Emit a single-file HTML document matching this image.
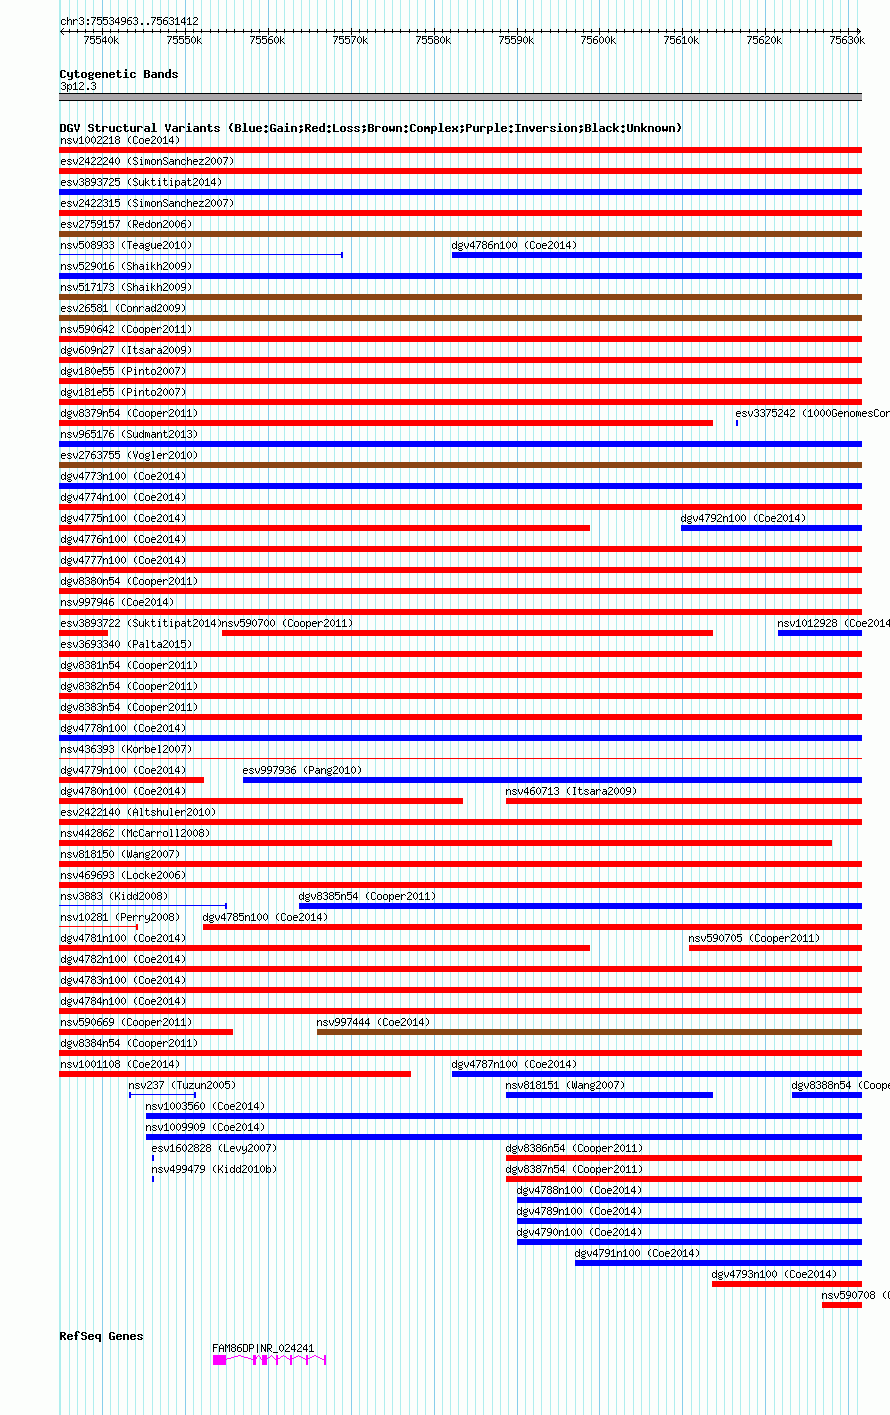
<!DOCTYPE html>
<html><head><meta charset="utf-8"><title>DGV Structural Variants</title>
<style>html,body{margin:0;padding:0;background:#fcfefc}body{width:890px;height:1415px;overflow:hidden;position:relative;font-family:"Liberation Mono",monospace}svg{position:absolute;left:0;top:0;display:block}</style>
</head><body>
<svg width="890" height="1415" viewBox="0 0 890 1415" shape-rendering="crispEdges">
<defs><path id="s28" d="M3 3h1v1h-1zM2 4h1v1h-1zM1 5h1v1h-1zM1 6h1v1h-1zM1 7h1v1h-1zM1 8h1v1h-1zM2 9h1v1h-1zM3 10h1v1h-1z"/><path id="s29" d="M1 3h1v1h-1zM2 4h1v1h-1zM3 5h1v1h-1zM3 6h1v1h-1zM3 7h1v1h-1zM3 8h1v1h-1zM2 9h1v1h-1zM1 10h1v1h-1z"/><path id="s2e" d="M2 9h2v1h-2zM2 10h2v1h-2z"/><path id="s30" d="M2 3h1v1h-1zM1 4h1v1h-1zM3 4h1v1h-1zM0 5h1v1h-1zM4 5h1v1h-1zM0 6h1v1h-1zM4 6h1v1h-1zM0 7h1v1h-1zM4 7h1v1h-1zM0 8h1v1h-1zM4 8h1v1h-1zM1 9h1v1h-1zM3 9h1v1h-1zM2 10h1v1h-1z"/><path id="s31" d="M2 3h1v1h-1zM1 4h2v1h-2zM0 5h1v1h-1zM2 5h1v1h-1zM2 6h1v1h-1zM2 7h1v1h-1zM2 8h1v1h-1zM2 9h1v1h-1zM0 10h5v1h-5z"/><path id="s32" d="M1 3h3v1h-3zM0 4h1v1h-1zM4 4h1v1h-1zM4 5h1v1h-1zM3 6h1v1h-1zM2 7h1v1h-1zM1 8h1v1h-1zM0 9h1v1h-1zM0 10h5v1h-5z"/><path id="s33" d="M1 3h3v1h-3zM0 4h1v1h-1zM4 4h1v1h-1zM4 5h1v1h-1zM2 6h2v1h-2zM4 7h1v1h-1zM4 8h1v1h-1zM0 9h1v1h-1zM4 9h1v1h-1zM1 10h3v1h-3z"/><path id="s34" d="M3 3h1v1h-1zM2 4h2v1h-2zM1 5h1v1h-1zM3 5h1v1h-1zM0 6h1v1h-1zM3 6h1v1h-1zM0 7h1v1h-1zM3 7h1v1h-1zM0 8h5v1h-5zM3 9h1v1h-1zM3 10h1v1h-1z"/><path id="s35" d="M0 3h5v1h-5zM0 4h1v1h-1zM0 5h4v1h-4zM0 6h1v1h-1zM4 6h1v1h-1zM4 7h1v1h-1zM4 8h1v1h-1zM0 9h1v1h-1zM4 9h1v1h-1zM1 10h3v1h-3z"/><path id="s36" d="M2 3h3v1h-3zM1 4h1v1h-1zM0 5h1v1h-1zM0 6h4v1h-4zM0 7h1v1h-1zM4 7h1v1h-1zM0 8h1v1h-1zM4 8h1v1h-1zM0 9h1v1h-1zM4 9h1v1h-1zM1 10h3v1h-3z"/><path id="s37" d="M0 3h5v1h-5zM4 4h1v1h-1zM3 5h1v1h-1zM3 6h1v1h-1zM2 7h1v1h-1zM2 8h1v1h-1zM1 9h1v1h-1zM1 10h1v1h-1z"/><path id="s38" d="M1 3h3v1h-3zM0 4h1v1h-1zM4 4h1v1h-1zM0 5h1v1h-1zM4 5h1v1h-1zM1 6h3v1h-3zM0 7h1v1h-1zM4 7h1v1h-1zM0 8h1v1h-1zM4 8h1v1h-1zM0 9h1v1h-1zM4 9h1v1h-1zM1 10h3v1h-3z"/><path id="s39" d="M1 3h3v1h-3zM0 4h1v1h-1zM4 4h1v1h-1zM0 5h1v1h-1zM4 5h1v1h-1zM0 6h1v1h-1zM4 6h1v1h-1zM1 7h4v1h-4zM4 8h1v1h-1zM3 9h1v1h-1zM0 10h3v1h-3z"/><path id="s3a" d="M2 5h2v1h-2zM2 6h2v1h-2zM2 9h2v1h-2zM2 10h2v1h-2z"/><path id="s41" d="M2 3h1v1h-1zM1 4h1v1h-1zM3 4h1v1h-1zM0 5h1v1h-1zM4 5h1v1h-1zM0 6h1v1h-1zM4 6h1v1h-1zM0 7h5v1h-5zM0 8h1v1h-1zM4 8h1v1h-1zM0 9h1v1h-1zM4 9h1v1h-1zM0 10h1v1h-1zM4 10h1v1h-1z"/><path id="s43" d="M1 3h3v1h-3zM0 4h1v1h-1zM4 4h1v1h-1zM0 5h1v1h-1zM0 6h1v1h-1zM0 7h1v1h-1zM0 8h1v1h-1zM0 9h1v1h-1zM4 9h1v1h-1zM1 10h3v1h-3z"/><path id="s44" d="M0 3h4v1h-4zM0 4h1v1h-1zM4 4h1v1h-1zM0 5h1v1h-1zM4 5h1v1h-1zM0 6h1v1h-1zM4 6h1v1h-1zM0 7h1v1h-1zM4 7h1v1h-1zM0 8h1v1h-1zM4 8h1v1h-1zM0 9h1v1h-1zM4 9h1v1h-1zM0 10h4v1h-4z"/><path id="s46" d="M0 3h5v1h-5zM0 4h1v1h-1zM0 5h1v1h-1zM0 6h4v1h-4zM0 7h1v1h-1zM0 8h1v1h-1zM0 9h1v1h-1zM0 10h1v1h-1z"/><path id="s47" d="M1 3h3v1h-3zM0 4h1v1h-1zM4 4h1v1h-1zM0 5h1v1h-1zM0 6h1v1h-1zM0 7h1v1h-1zM3 7h2v1h-2zM0 8h1v1h-1zM4 8h1v1h-1zM0 9h1v1h-1zM4 9h1v1h-1zM1 10h3v1h-3z"/><path id="s49" d="M1 3h3v1h-3zM2 4h1v1h-1zM2 5h1v1h-1zM2 6h1v1h-1zM2 7h1v1h-1zM2 8h1v1h-1zM2 9h1v1h-1zM1 10h3v1h-3z"/><path id="s4b" d="M0 3h1v1h-1zM4 3h1v1h-1zM0 4h1v1h-1zM4 4h1v1h-1zM0 5h1v1h-1zM3 5h1v1h-1zM0 6h1v1h-1zM2 6h1v1h-1zM0 7h3v1h-3zM0 8h1v1h-1zM3 8h1v1h-1zM0 9h1v1h-1zM4 9h1v1h-1zM0 10h1v1h-1zM4 10h1v1h-1z"/><path id="s4c" d="M0 3h1v1h-1zM0 4h1v1h-1zM0 5h1v1h-1zM0 6h1v1h-1zM0 7h1v1h-1zM0 8h1v1h-1zM0 9h1v1h-1zM0 10h5v1h-5z"/><path id="s4d" d="M0 3h1v1h-1zM4 3h1v1h-1zM0 4h2v1h-2zM3 4h2v1h-2zM0 5h1v1h-1zM2 5h1v1h-1zM4 5h1v1h-1zM0 6h1v1h-1zM2 6h1v1h-1zM4 6h1v1h-1zM0 7h1v1h-1zM4 7h1v1h-1zM0 8h1v1h-1zM4 8h1v1h-1zM0 9h1v1h-1zM4 9h1v1h-1zM0 10h1v1h-1zM4 10h1v1h-1z"/><path id="s4e" d="M0 3h1v1h-1zM4 3h1v1h-1zM0 4h2v1h-2zM4 4h1v1h-1zM0 5h2v1h-2zM4 5h1v1h-1zM0 6h1v1h-1zM2 6h1v1h-1zM4 6h1v1h-1zM0 7h1v1h-1zM2 7h1v1h-1zM4 7h1v1h-1zM0 8h1v1h-1zM3 8h2v1h-2zM0 9h1v1h-1zM3 9h2v1h-2zM0 10h1v1h-1zM4 10h1v1h-1z"/><path id="s50" d="M0 3h4v1h-4zM0 4h1v1h-1zM4 4h1v1h-1zM0 5h1v1h-1zM4 5h1v1h-1zM0 6h1v1h-1zM4 6h1v1h-1zM0 7h4v1h-4zM0 8h1v1h-1zM0 9h1v1h-1zM0 10h1v1h-1z"/><path id="s52" d="M0 3h4v1h-4zM0 4h1v1h-1zM4 4h1v1h-1zM0 5h1v1h-1zM4 5h1v1h-1zM0 6h1v1h-1zM4 6h1v1h-1zM0 7h4v1h-4zM0 8h1v1h-1zM2 8h1v1h-1zM0 9h1v1h-1zM3 9h1v1h-1zM0 10h1v1h-1zM4 10h1v1h-1z"/><path id="s53" d="M1 3h3v1h-3zM0 4h1v1h-1zM4 4h1v1h-1zM0 5h1v1h-1zM1 6h2v1h-2zM3 7h1v1h-1zM4 8h1v1h-1zM0 9h1v1h-1zM4 9h1v1h-1zM1 10h3v1h-3z"/><path id="s54" d="M0 3h5v1h-5zM2 4h1v1h-1zM2 5h1v1h-1zM2 6h1v1h-1zM2 7h1v1h-1zM2 8h1v1h-1zM2 9h1v1h-1zM2 10h1v1h-1z"/><path id="s56" d="M0 3h1v1h-1zM4 3h1v1h-1zM0 4h1v1h-1zM4 4h1v1h-1zM0 5h1v1h-1zM4 5h1v1h-1zM1 6h1v1h-1zM3 6h1v1h-1zM1 7h1v1h-1zM3 7h1v1h-1zM1 8h1v1h-1zM3 8h1v1h-1zM2 9h1v1h-1zM2 10h1v1h-1z"/><path id="s57" d="M0 3h1v1h-1zM4 3h1v1h-1zM0 4h1v1h-1zM4 4h1v1h-1zM0 5h1v1h-1zM2 5h1v1h-1zM4 5h1v1h-1zM0 6h1v1h-1zM2 6h1v1h-1zM4 6h1v1h-1zM0 7h1v1h-1zM2 7h1v1h-1zM4 7h1v1h-1zM0 8h1v1h-1zM2 8h1v1h-1zM4 8h1v1h-1zM0 9h2v1h-2zM3 9h2v1h-2zM1 10h1v1h-1zM3 10h1v1h-1z"/><path id="s5f" d="M0 11h5v1h-5z"/><path id="s61" d="M1 5h3v1h-3zM4 6h1v1h-1zM1 7h4v1h-4zM0 8h1v1h-1zM4 8h1v1h-1zM0 9h1v1h-1zM3 9h2v1h-2zM1 10h2v1h-2zM4 10h1v1h-1z"/><path id="s62" d="M0 3h1v1h-1zM0 4h1v1h-1zM0 5h1v1h-1zM2 5h2v1h-2zM0 6h2v1h-2zM4 6h1v1h-1zM0 7h1v1h-1zM4 7h1v1h-1zM0 8h1v1h-1zM4 8h1v1h-1zM0 9h2v1h-2zM4 9h1v1h-1zM0 10h1v1h-1zM2 10h2v1h-2z"/><path id="s63" d="M1 5h3v1h-3zM0 6h1v1h-1zM4 6h1v1h-1zM0 7h1v1h-1zM0 8h1v1h-1zM0 9h1v1h-1zM4 9h1v1h-1zM1 10h3v1h-3z"/><path id="s64" d="M4 3h1v1h-1zM4 4h1v1h-1zM1 5h2v1h-2zM4 5h1v1h-1zM0 6h1v1h-1zM3 6h2v1h-2zM0 7h1v1h-1zM4 7h1v1h-1zM0 8h1v1h-1zM4 8h1v1h-1zM0 9h1v1h-1zM3 9h2v1h-2zM1 10h2v1h-2zM4 10h1v1h-1z"/><path id="s65" d="M1 5h3v1h-3zM0 6h1v1h-1zM4 6h1v1h-1zM0 7h5v1h-5zM0 8h1v1h-1zM0 9h1v1h-1zM1 10h3v1h-3z"/><path id="s67" d="M4 4h1v1h-1zM1 5h3v1h-3zM0 6h1v1h-1zM4 6h1v1h-1zM0 7h1v1h-1zM4 7h1v1h-1zM1 8h3v1h-3zM0 9h1v1h-1zM1 10h3v1h-3zM0 11h1v1h-1zM4 11h1v1h-1zM1 12h3v1h-3z"/><path id="s68" d="M0 3h1v1h-1zM0 4h1v1h-1zM0 5h1v1h-1zM2 5h2v1h-2zM0 6h2v1h-2zM4 6h1v1h-1zM0 7h1v1h-1zM4 7h1v1h-1zM0 8h1v1h-1zM4 8h1v1h-1zM0 9h1v1h-1zM4 9h1v1h-1zM0 10h1v1h-1zM4 10h1v1h-1z"/><path id="s69" d="M2 3h1v1h-1zM1 5h2v1h-2zM2 6h1v1h-1zM2 7h1v1h-1zM2 8h1v1h-1zM2 9h1v1h-1zM1 10h3v1h-3z"/><path id="s6b" d="M0 3h1v1h-1zM0 4h1v1h-1zM0 5h1v1h-1zM3 5h1v1h-1zM0 6h1v1h-1zM2 6h1v1h-1zM0 7h2v1h-2zM0 8h1v1h-1zM2 8h1v1h-1zM0 9h1v1h-1zM3 9h1v1h-1zM0 10h1v1h-1zM4 10h1v1h-1z"/><path id="s6c" d="M1 3h2v1h-2zM2 4h1v1h-1zM2 5h1v1h-1zM2 6h1v1h-1zM2 7h1v1h-1zM2 8h1v1h-1zM2 9h1v1h-1zM1 10h3v1h-3z"/><path id="s6d" d="M0 5h2v1h-2zM3 5h1v1h-1zM0 6h1v1h-1zM2 6h1v1h-1zM4 6h1v1h-1zM0 7h1v1h-1zM2 7h1v1h-1zM4 7h1v1h-1zM0 8h1v1h-1zM2 8h1v1h-1zM4 8h1v1h-1zM0 9h1v1h-1zM2 9h1v1h-1zM4 9h1v1h-1zM0 10h1v1h-1zM4 10h1v1h-1z"/><path id="s6e" d="M0 5h1v1h-1zM2 5h2v1h-2zM0 6h2v1h-2zM4 6h1v1h-1zM0 7h1v1h-1zM4 7h1v1h-1zM0 8h1v1h-1zM4 8h1v1h-1zM0 9h1v1h-1zM4 9h1v1h-1zM0 10h1v1h-1zM4 10h1v1h-1z"/><path id="s6f" d="M1 5h3v1h-3zM0 6h1v1h-1zM4 6h1v1h-1zM0 7h1v1h-1zM4 7h1v1h-1zM0 8h1v1h-1zM4 8h1v1h-1zM0 9h1v1h-1zM4 9h1v1h-1zM1 10h3v1h-3z"/><path id="s70" d="M0 5h1v1h-1zM2 5h2v1h-2zM0 6h2v1h-2zM4 6h1v1h-1zM0 7h1v1h-1zM4 7h1v1h-1zM0 8h1v1h-1zM4 8h1v1h-1zM0 9h2v1h-2zM4 9h1v1h-1zM0 10h1v1h-1zM2 10h2v1h-2zM0 11h1v1h-1zM0 12h1v1h-1z"/><path id="s72" d="M0 5h1v1h-1zM2 5h2v1h-2zM0 6h2v1h-2zM4 6h1v1h-1zM0 7h1v1h-1zM0 8h1v1h-1zM0 9h1v1h-1zM0 10h1v1h-1z"/><path id="s73" d="M1 5h3v1h-3zM0 6h1v1h-1zM4 6h1v1h-1zM1 7h2v1h-2zM3 8h1v1h-1zM0 9h1v1h-1zM4 9h1v1h-1zM1 10h3v1h-3z"/><path id="s74" d="M1 3h1v1h-1zM1 4h1v1h-1zM0 5h4v1h-4zM1 6h1v1h-1zM1 7h1v1h-1zM1 8h1v1h-1zM1 9h1v1h-1zM4 9h1v1h-1zM2 10h2v1h-2z"/><path id="s75" d="M0 5h1v1h-1zM4 5h1v1h-1zM0 6h1v1h-1zM4 6h1v1h-1zM0 7h1v1h-1zM4 7h1v1h-1zM0 8h1v1h-1zM4 8h1v1h-1zM0 9h1v1h-1zM3 9h2v1h-2zM1 10h2v1h-2zM4 10h1v1h-1z"/><path id="s76" d="M0 5h1v1h-1zM4 5h1v1h-1zM0 6h1v1h-1zM4 6h1v1h-1zM0 7h1v1h-1zM4 7h1v1h-1zM1 8h1v1h-1zM3 8h1v1h-1zM1 9h1v1h-1zM3 9h1v1h-1zM2 10h1v1h-1z"/><path id="s79" d="M0 5h1v1h-1zM4 5h1v1h-1zM0 6h1v1h-1zM4 6h1v1h-1zM0 7h1v1h-1zM4 7h1v1h-1zM0 8h1v1h-1zM3 8h2v1h-2zM1 9h2v1h-2zM4 9h1v1h-1zM4 10h1v1h-1zM3 11h1v1h-1zM0 12h3v1h-3z"/><path id="s7a" d="M0 5h5v1h-5zM3 6h1v1h-1zM2 7h1v1h-1zM1 8h1v1h-1zM0 9h1v1h-1zM0 10h5v1h-5z"/><path id="s7c" d="M2 3h1v1h-1zM2 4h1v1h-1zM2 5h1v1h-1zM2 6h1v1h-1zM2 7h1v1h-1zM2 8h1v1h-1zM2 9h1v1h-1zM2 10h1v1h-1zM2 11h1v1h-1z"/><path id="b28" d="M3 2h2v1h-2zM2 3h2v1h-2zM2 4h2v1h-2zM1 5h2v1h-2zM1 6h2v1h-2zM1 7h2v1h-2zM2 8h2v1h-2zM2 9h2v1h-2zM3 10h2v1h-2z"/><path id="b29" d="M1 2h2v1h-2zM2 3h2v1h-2zM2 4h2v1h-2zM3 5h2v1h-2zM3 6h2v1h-2zM3 7h2v1h-2zM2 8h2v1h-2zM2 9h2v1h-2zM1 10h2v1h-2z"/><path id="b3a" d="M2 4h2v1h-2zM1 5h4v1h-4zM2 6h2v1h-2zM2 9h2v1h-2zM1 10h4v1h-4zM2 11h2v1h-2z"/><path id="b3b" d="M2 4h2v1h-2zM1 5h4v1h-4zM2 6h2v1h-2zM2 8h3v1h-3zM2 9h3v1h-3zM2 10h2v1h-2zM1 11h2v1h-2z"/><path id="b42" d="M0 3h5v1h-5zM0 4h2v1h-2zM4 4h2v1h-2zM0 5h2v1h-2zM4 5h2v1h-2zM0 6h5v1h-5zM0 7h2v1h-2zM4 7h2v1h-2zM0 8h2v1h-2zM4 8h2v1h-2zM0 9h2v1h-2zM4 9h2v1h-2zM0 10h5v1h-5z"/><path id="b43" d="M1 3h4v1h-4zM0 4h2v1h-2zM4 4h2v1h-2zM0 5h2v1h-2zM0 6h2v1h-2zM0 7h2v1h-2zM0 8h2v1h-2zM0 9h2v1h-2zM4 9h2v1h-2zM1 10h4v1h-4z"/><path id="b44" d="M0 3h5v1h-5zM0 4h2v1h-2zM4 4h2v1h-2zM0 5h2v1h-2zM4 5h2v1h-2zM0 6h2v1h-2zM4 6h2v1h-2zM0 7h2v1h-2zM4 7h2v1h-2zM0 8h2v1h-2zM4 8h2v1h-2zM0 9h2v1h-2zM4 9h2v1h-2zM0 10h5v1h-5z"/><path id="b47" d="M1 3h4v1h-4zM0 4h2v1h-2zM4 4h2v1h-2zM0 5h2v1h-2zM0 6h2v1h-2zM0 7h2v1h-2zM3 7h3v1h-3zM0 8h2v1h-2zM4 8h2v1h-2zM0 9h2v1h-2zM4 9h2v1h-2zM1 10h5v1h-5z"/><path id="b49" d="M0 3h6v1h-6zM2 4h2v1h-2zM2 5h2v1h-2zM2 6h2v1h-2zM2 7h2v1h-2zM2 8h2v1h-2zM2 9h2v1h-2zM0 10h6v1h-6z"/><path id="b4c" d="M0 3h2v1h-2zM0 4h2v1h-2zM0 5h2v1h-2zM0 6h2v1h-2zM0 7h2v1h-2zM0 8h2v1h-2zM0 9h2v1h-2zM0 10h6v1h-6z"/><path id="b50" d="M0 3h5v1h-5zM0 4h2v1h-2zM4 4h2v1h-2zM0 5h2v1h-2zM4 5h2v1h-2zM0 6h5v1h-5zM0 7h2v1h-2zM0 8h2v1h-2zM0 9h2v1h-2zM0 10h2v1h-2z"/><path id="b52" d="M0 3h5v1h-5zM0 4h2v1h-2zM4 4h2v1h-2zM0 5h2v1h-2zM4 5h2v1h-2zM0 6h5v1h-5zM0 7h4v1h-4zM0 8h2v1h-2zM3 8h2v1h-2zM0 9h2v1h-2zM4 9h2v1h-2zM0 10h2v1h-2zM4 10h2v1h-2z"/><path id="b53" d="M1 3h4v1h-4zM0 4h2v1h-2zM4 4h2v1h-2zM0 5h2v1h-2zM1 6h4v1h-4zM4 7h2v1h-2zM4 8h2v1h-2zM0 9h2v1h-2zM4 9h2v1h-2zM1 10h4v1h-4z"/><path id="b55" d="M0 3h2v1h-2zM4 3h2v1h-2zM0 4h2v1h-2zM4 4h2v1h-2zM0 5h2v1h-2zM4 5h2v1h-2zM0 6h2v1h-2zM4 6h2v1h-2zM0 7h2v1h-2zM4 7h2v1h-2zM0 8h2v1h-2zM4 8h2v1h-2zM0 9h2v1h-2zM4 9h2v1h-2zM1 10h4v1h-4z"/><path id="b56" d="M0 3h2v1h-2zM4 3h2v1h-2zM0 4h2v1h-2zM4 4h2v1h-2zM0 5h2v1h-2zM4 5h2v1h-2zM1 6h1v1h-1zM4 6h1v1h-1zM1 7h1v1h-1zM4 7h1v1h-1zM1 8h4v1h-4zM2 9h2v1h-2zM2 10h2v1h-2z"/><path id="b61" d="M1 5h4v1h-4zM4 6h2v1h-2zM1 7h5v1h-5zM0 8h2v1h-2zM4 8h2v1h-2zM0 9h2v1h-2zM4 9h2v1h-2zM1 10h5v1h-5z"/><path id="b63" d="M1 5h4v1h-4zM0 6h2v1h-2zM4 6h2v1h-2zM0 7h2v1h-2zM0 8h2v1h-2zM0 9h2v1h-2zM4 9h2v1h-2zM1 10h4v1h-4z"/><path id="b64" d="M4 2h2v1h-2zM4 3h2v1h-2zM4 4h2v1h-2zM1 5h5v1h-5zM0 6h2v1h-2zM4 6h2v1h-2zM0 7h2v1h-2zM4 7h2v1h-2zM0 8h2v1h-2zM4 8h2v1h-2zM0 9h2v1h-2zM4 9h2v1h-2zM1 10h5v1h-5z"/><path id="b65" d="M1 5h4v1h-4zM0 6h2v1h-2zM4 6h2v1h-2zM0 7h6v1h-6zM0 8h2v1h-2zM0 9h2v1h-2zM4 9h2v1h-2zM1 10h4v1h-4z"/><path id="b66" d="M2 2h3v1h-3zM1 3h2v1h-2zM4 3h2v1h-2zM1 4h2v1h-2zM1 5h2v1h-2zM0 6h4v1h-4zM1 7h2v1h-2zM1 8h2v1h-2zM1 9h2v1h-2zM1 10h2v1h-2z"/><path id="b67" d="M1 5h3v1h-3zM5 5h1v1h-1zM0 6h2v1h-2zM4 6h2v1h-2zM0 7h2v1h-2zM4 7h2v1h-2zM1 8h4v1h-4zM0 9h2v1h-2zM1 10h4v1h-4zM0 11h2v1h-2zM4 11h2v1h-2zM1 12h4v1h-4z"/><path id="b69" d="M2 2h2v1h-2zM2 3h2v1h-2zM1 5h3v1h-3zM2 6h2v1h-2zM2 7h2v1h-2zM2 8h2v1h-2zM2 9h2v1h-2zM0 10h6v1h-6z"/><path id="b6b" d="M0 2h2v1h-2zM0 3h2v1h-2zM0 4h2v1h-2zM0 5h2v1h-2zM4 5h2v1h-2zM0 6h2v1h-2zM3 6h2v1h-2zM0 7h4v1h-4zM0 8h4v1h-4zM0 9h2v1h-2zM3 9h2v1h-2zM0 10h2v1h-2zM4 10h2v1h-2z"/><path id="b6c" d="M1 2h3v1h-3zM2 3h2v1h-2zM2 4h2v1h-2zM2 5h2v1h-2zM2 6h2v1h-2zM2 7h2v1h-2zM2 8h2v1h-2zM2 9h2v1h-2zM0 10h6v1h-6z"/><path id="b6d" d="M0 5h2v1h-2zM3 5h2v1h-2zM0 6h6v1h-6zM0 7h6v1h-6zM0 8h2v1h-2zM4 8h2v1h-2zM0 9h2v1h-2zM4 9h2v1h-2zM0 10h2v1h-2zM4 10h2v1h-2z"/><path id="b6e" d="M0 5h5v1h-5zM0 6h2v1h-2zM4 6h2v1h-2zM0 7h2v1h-2zM4 7h2v1h-2zM0 8h2v1h-2zM4 8h2v1h-2zM0 9h2v1h-2zM4 9h2v1h-2zM0 10h2v1h-2zM4 10h2v1h-2z"/><path id="b6f" d="M1 5h4v1h-4zM0 6h2v1h-2zM4 6h2v1h-2zM0 7h2v1h-2zM4 7h2v1h-2zM0 8h2v1h-2zM4 8h2v1h-2zM0 9h2v1h-2zM4 9h2v1h-2zM1 10h4v1h-4z"/><path id="b70" d="M0 5h5v1h-5zM0 6h2v1h-2zM4 6h2v1h-2zM0 7h2v1h-2zM4 7h2v1h-2zM0 8h2v1h-2zM4 8h2v1h-2zM0 9h5v1h-5zM0 10h2v1h-2zM0 11h2v1h-2zM0 12h2v1h-2z"/><path id="b71" d="M1 5h5v1h-5zM0 6h2v1h-2zM4 6h2v1h-2zM0 7h2v1h-2zM4 7h2v1h-2zM0 8h2v1h-2zM4 8h2v1h-2zM1 9h5v1h-5zM4 10h2v1h-2zM4 11h2v1h-2zM4 12h2v1h-2z"/><path id="b72" d="M0 5h5v1h-5zM0 6h2v1h-2zM4 6h2v1h-2zM0 7h2v1h-2zM0 8h2v1h-2zM0 9h2v1h-2zM0 10h2v1h-2z"/><path id="b73" d="M1 5h4v1h-4zM0 6h2v1h-2zM4 6h2v1h-2zM1 7h2v1h-2zM3 8h2v1h-2zM0 9h2v1h-2zM4 9h2v1h-2zM1 10h4v1h-4z"/><path id="b74" d="M1 3h2v1h-2zM1 4h2v1h-2zM0 5h5v1h-5zM1 6h2v1h-2zM1 7h2v1h-2zM1 8h2v1h-2zM1 9h2v1h-2zM4 9h2v1h-2zM2 10h3v1h-3z"/><path id="b75" d="M0 5h2v1h-2zM4 5h2v1h-2zM0 6h2v1h-2zM4 6h2v1h-2zM0 7h2v1h-2zM4 7h2v1h-2zM0 8h2v1h-2zM4 8h2v1h-2zM0 9h2v1h-2zM4 9h2v1h-2zM1 10h5v1h-5z"/><path id="b76" d="M0 5h2v1h-2zM4 5h2v1h-2zM0 6h2v1h-2zM4 6h2v1h-2zM0 7h2v1h-2zM4 7h2v1h-2zM1 8h4v1h-4zM1 9h4v1h-4zM2 10h2v1h-2z"/><path id="b77" d="M0 5h2v1h-2zM4 5h2v1h-2zM0 6h2v1h-2zM4 6h2v1h-2zM0 7h2v1h-2zM4 7h2v1h-2zM0 8h6v1h-6zM0 9h6v1h-6zM1 10h1v1h-1zM4 10h1v1h-1z"/><path id="b78" d="M0 5h2v1h-2zM4 5h2v1h-2zM0 6h2v1h-2zM4 6h2v1h-2zM1 7h4v1h-4zM1 8h4v1h-4zM0 9h2v1h-2zM4 9h2v1h-2zM0 10h2v1h-2zM4 10h2v1h-2z"/><path id="b79" d="M0 5h2v1h-2zM4 5h2v1h-2zM0 6h2v1h-2zM4 6h2v1h-2zM0 7h2v1h-2zM4 7h2v1h-2zM0 8h2v1h-2zM4 8h2v1h-2zM1 9h5v1h-5zM4 10h2v1h-2zM4 11h2v1h-2zM1 12h4v1h-4z"/></defs>
<rect x="0" y="0" width="890" height="1415" fill="#fcfefc"/>
<rect x="59" y="0" width="2" height="1415" fill="#afeeee"/><rect x="69" y="0" width="1" height="1415" fill="#afeeee"/><rect x="77" y="0" width="1" height="1415" fill="#afeeee"/><rect x="85" y="0" width="1" height="1415" fill="#afeeee"/><rect x="93" y="0" width="1" height="1415" fill="#afeeee"/><rect x="102" y="0" width="1" height="1415" fill="#87ceeb"/><rect x="110" y="0" width="1" height="1415" fill="#afeeee"/><rect x="118" y="0" width="1" height="1415" fill="#afeeee"/><rect x="127" y="0" width="1" height="1415" fill="#afeeee"/><rect x="135" y="0" width="1" height="1415" fill="#afeeee"/><rect x="143" y="0" width="1" height="1415" fill="#afeeee"/><rect x="152" y="0" width="1" height="1415" fill="#afeeee"/><rect x="160" y="0" width="1" height="1415" fill="#afeeee"/><rect x="168" y="0" width="1" height="1415" fill="#afeeee"/><rect x="176" y="0" width="1" height="1415" fill="#afeeee"/><rect x="185" y="0" width="1" height="1415" fill="#87ceeb"/><rect x="193" y="0" width="1" height="1415" fill="#afeeee"/><rect x="201" y="0" width="1" height="1415" fill="#afeeee"/><rect x="210" y="0" width="1" height="1415" fill="#afeeee"/><rect x="218" y="0" width="1" height="1415" fill="#afeeee"/><rect x="226" y="0" width="1" height="1415" fill="#afeeee"/><rect x="234" y="0" width="1" height="1415" fill="#afeeee"/><rect x="243" y="0" width="1" height="1415" fill="#afeeee"/><rect x="251" y="0" width="1" height="1415" fill="#afeeee"/><rect x="259" y="0" width="1" height="1415" fill="#afeeee"/><rect x="268" y="0" width="1" height="1415" fill="#87ceeb"/><rect x="276" y="0" width="1" height="1415" fill="#afeeee"/><rect x="284" y="0" width="1" height="1415" fill="#afeeee"/><rect x="293" y="0" width="1" height="1415" fill="#afeeee"/><rect x="301" y="0" width="1" height="1415" fill="#afeeee"/><rect x="309" y="0" width="1" height="1415" fill="#afeeee"/><rect x="317" y="0" width="1" height="1415" fill="#afeeee"/><rect x="326" y="0" width="1" height="1415" fill="#afeeee"/><rect x="334" y="0" width="1" height="1415" fill="#afeeee"/><rect x="342" y="0" width="1" height="1415" fill="#afeeee"/><rect x="351" y="0" width="1" height="1415" fill="#87ceeb"/><rect x="359" y="0" width="1" height="1415" fill="#afeeee"/><rect x="367" y="0" width="1" height="1415" fill="#afeeee"/><rect x="375" y="0" width="1" height="1415" fill="#afeeee"/><rect x="384" y="0" width="1" height="1415" fill="#afeeee"/><rect x="392" y="0" width="1" height="1415" fill="#afeeee"/><rect x="400" y="0" width="1" height="1415" fill="#afeeee"/><rect x="409" y="0" width="1" height="1415" fill="#afeeee"/><rect x="417" y="0" width="1" height="1415" fill="#afeeee"/><rect x="425" y="0" width="1" height="1415" fill="#afeeee"/><rect x="434" y="0" width="1" height="1415" fill="#87ceeb"/><rect x="442" y="0" width="1" height="1415" fill="#afeeee"/><rect x="450" y="0" width="1" height="1415" fill="#afeeee"/><rect x="458" y="0" width="1" height="1415" fill="#afeeee"/><rect x="467" y="0" width="1" height="1415" fill="#afeeee"/><rect x="475" y="0" width="1" height="1415" fill="#afeeee"/><rect x="483" y="0" width="1" height="1415" fill="#afeeee"/><rect x="492" y="0" width="1" height="1415" fill="#afeeee"/><rect x="500" y="0" width="1" height="1415" fill="#afeeee"/><rect x="508" y="0" width="1" height="1415" fill="#afeeee"/><rect x="517" y="0" width="1" height="1415" fill="#87ceeb"/><rect x="525" y="0" width="1" height="1415" fill="#afeeee"/><rect x="533" y="0" width="1" height="1415" fill="#afeeee"/><rect x="541" y="0" width="1" height="1415" fill="#afeeee"/><rect x="550" y="0" width="1" height="1415" fill="#afeeee"/><rect x="558" y="0" width="1" height="1415" fill="#afeeee"/><rect x="566" y="0" width="1" height="1415" fill="#afeeee"/><rect x="575" y="0" width="1" height="1415" fill="#afeeee"/><rect x="583" y="0" width="1" height="1415" fill="#afeeee"/><rect x="591" y="0" width="1" height="1415" fill="#afeeee"/><rect x="599" y="0" width="1" height="1415" fill="#87ceeb"/><rect x="608" y="0" width="1" height="1415" fill="#afeeee"/><rect x="616" y="0" width="1" height="1415" fill="#afeeee"/><rect x="624" y="0" width="1" height="1415" fill="#afeeee"/><rect x="633" y="0" width="1" height="1415" fill="#afeeee"/><rect x="641" y="0" width="1" height="1415" fill="#afeeee"/><rect x="649" y="0" width="1" height="1415" fill="#afeeee"/><rect x="658" y="0" width="1" height="1415" fill="#afeeee"/><rect x="666" y="0" width="1" height="1415" fill="#afeeee"/><rect x="674" y="0" width="1" height="1415" fill="#afeeee"/><rect x="682" y="0" width="1" height="1415" fill="#87ceeb"/><rect x="691" y="0" width="1" height="1415" fill="#afeeee"/><rect x="699" y="0" width="1" height="1415" fill="#afeeee"/><rect x="707" y="0" width="1" height="1415" fill="#afeeee"/><rect x="716" y="0" width="1" height="1415" fill="#afeeee"/><rect x="724" y="0" width="1" height="1415" fill="#afeeee"/><rect x="732" y="0" width="1" height="1415" fill="#afeeee"/><rect x="740" y="0" width="1" height="1415" fill="#afeeee"/><rect x="749" y="0" width="1" height="1415" fill="#afeeee"/><rect x="757" y="0" width="1" height="1415" fill="#afeeee"/><rect x="765" y="0" width="1" height="1415" fill="#87ceeb"/><rect x="774" y="0" width="1" height="1415" fill="#afeeee"/><rect x="782" y="0" width="1" height="1415" fill="#afeeee"/><rect x="790" y="0" width="1" height="1415" fill="#afeeee"/><rect x="799" y="0" width="1" height="1415" fill="#afeeee"/><rect x="807" y="0" width="1" height="1415" fill="#afeeee"/><rect x="815" y="0" width="1" height="1415" fill="#afeeee"/><rect x="823" y="0" width="1" height="1415" fill="#afeeee"/><rect x="832" y="0" width="1" height="1415" fill="#afeeee"/><rect x="840" y="0" width="1" height="1415" fill="#afeeee"/><rect x="848" y="0" width="1" height="1415" fill="#87ceeb"/><rect x="857" y="0" width="1" height="1415" fill="#afeeee"/>
<g fill="#000"><rect x="60" y="31" width="801" height="1"/><rect x="61" y="30" width="1" height="1"/><rect x="859" y="30" width="1" height="1"/><rect x="62" y="29" width="1" height="1"/><rect x="858" y="29" width="1" height="1"/><rect x="63" y="28" width="1" height="1"/><rect x="857" y="28" width="1" height="1"/><rect x="61" y="32" width="1" height="1"/><rect x="859" y="32" width="1" height="1"/><rect x="62" y="33" width="1" height="1"/><rect x="858" y="33" width="1" height="1"/><rect x="63" y="34" width="1" height="1"/><rect x="857" y="34" width="1" height="1"/><rect x="69" y="29" width="1" height="4"/><rect x="77" y="29" width="1" height="4"/><rect x="85" y="29" width="1" height="4"/><rect x="93" y="29" width="1" height="4"/><rect x="102" y="28" width="1" height="7"/><rect x="110" y="29" width="1" height="4"/><rect x="118" y="29" width="1" height="4"/><rect x="127" y="29" width="1" height="4"/><rect x="135" y="29" width="1" height="4"/><rect x="143" y="29" width="1" height="4"/><rect x="152" y="29" width="1" height="4"/><rect x="160" y="29" width="1" height="4"/><rect x="168" y="29" width="1" height="4"/><rect x="176" y="29" width="1" height="4"/><rect x="185" y="28" width="1" height="7"/><rect x="193" y="29" width="1" height="4"/><rect x="201" y="29" width="1" height="4"/><rect x="210" y="29" width="1" height="4"/><rect x="218" y="29" width="1" height="4"/><rect x="226" y="29" width="1" height="4"/><rect x="234" y="29" width="1" height="4"/><rect x="243" y="29" width="1" height="4"/><rect x="251" y="29" width="1" height="4"/><rect x="259" y="29" width="1" height="4"/><rect x="268" y="28" width="1" height="7"/><rect x="276" y="29" width="1" height="4"/><rect x="284" y="29" width="1" height="4"/><rect x="293" y="29" width="1" height="4"/><rect x="301" y="29" width="1" height="4"/><rect x="309" y="29" width="1" height="4"/><rect x="317" y="29" width="1" height="4"/><rect x="326" y="29" width="1" height="4"/><rect x="334" y="29" width="1" height="4"/><rect x="342" y="29" width="1" height="4"/><rect x="351" y="28" width="1" height="7"/><rect x="359" y="29" width="1" height="4"/><rect x="367" y="29" width="1" height="4"/><rect x="375" y="29" width="1" height="4"/><rect x="384" y="29" width="1" height="4"/><rect x="392" y="29" width="1" height="4"/><rect x="400" y="29" width="1" height="4"/><rect x="409" y="29" width="1" height="4"/><rect x="417" y="29" width="1" height="4"/><rect x="425" y="29" width="1" height="4"/><rect x="434" y="28" width="1" height="7"/><rect x="442" y="29" width="1" height="4"/><rect x="450" y="29" width="1" height="4"/><rect x="458" y="29" width="1" height="4"/><rect x="467" y="29" width="1" height="4"/><rect x="475" y="29" width="1" height="4"/><rect x="483" y="29" width="1" height="4"/><rect x="492" y="29" width="1" height="4"/><rect x="500" y="29" width="1" height="4"/><rect x="508" y="29" width="1" height="4"/><rect x="517" y="28" width="1" height="7"/><rect x="525" y="29" width="1" height="4"/><rect x="533" y="29" width="1" height="4"/><rect x="541" y="29" width="1" height="4"/><rect x="550" y="29" width="1" height="4"/><rect x="558" y="29" width="1" height="4"/><rect x="566" y="29" width="1" height="4"/><rect x="575" y="29" width="1" height="4"/><rect x="583" y="29" width="1" height="4"/><rect x="591" y="29" width="1" height="4"/><rect x="599" y="28" width="1" height="7"/><rect x="608" y="29" width="1" height="4"/><rect x="616" y="29" width="1" height="4"/><rect x="624" y="29" width="1" height="4"/><rect x="633" y="29" width="1" height="4"/><rect x="641" y="29" width="1" height="4"/><rect x="649" y="29" width="1" height="4"/><rect x="658" y="29" width="1" height="4"/><rect x="666" y="29" width="1" height="4"/><rect x="674" y="29" width="1" height="4"/><rect x="682" y="28" width="1" height="7"/><rect x="691" y="29" width="1" height="4"/><rect x="699" y="29" width="1" height="4"/><rect x="707" y="29" width="1" height="4"/><rect x="716" y="29" width="1" height="4"/><rect x="724" y="29" width="1" height="4"/><rect x="732" y="29" width="1" height="4"/><rect x="740" y="29" width="1" height="4"/><rect x="749" y="29" width="1" height="4"/><rect x="757" y="29" width="1" height="4"/><rect x="765" y="28" width="1" height="7"/><rect x="774" y="29" width="1" height="4"/><rect x="782" y="29" width="1" height="4"/><rect x="790" y="29" width="1" height="4"/><rect x="799" y="29" width="1" height="4"/><rect x="807" y="29" width="1" height="4"/><rect x="815" y="29" width="1" height="4"/><rect x="823" y="29" width="1" height="4"/><rect x="832" y="29" width="1" height="4"/><rect x="840" y="29" width="1" height="4"/><rect x="848" y="28" width="1" height="7"/><rect x="857" y="29" width="1" height="4"/></g>
<rect x="59" y="93" width="803" height="1" fill="#000"/><rect x="59" y="94" width="803" height="6" fill="#aaa7aa"/><rect x="59" y="100" width="803" height="1" fill="#000"/><rect x="59" y="147" width="803" height="6" fill="#ff0000"/><rect x="59" y="168" width="803" height="6" fill="#ff0000"/><rect x="59" y="189" width="803" height="6" fill="#0000ff"/><rect x="59" y="210" width="803" height="6" fill="#ff0000"/><rect x="59" y="231" width="803" height="6" fill="#8b4513"/><rect x="59" y="254" width="284" height="1" fill="#0000ff"/><rect x="341" y="252" width="2" height="6" fill="#0000ff"/><rect x="452" y="252" width="410" height="6" fill="#0000ff"/><rect x="59" y="273" width="803" height="6" fill="#0000ff"/><rect x="59" y="294" width="803" height="6" fill="#8b4513"/><rect x="59" y="315" width="803" height="6" fill="#8b4513"/><rect x="59" y="336" width="803" height="6" fill="#ff0000"/><rect x="59" y="357" width="803" height="6" fill="#ff0000"/><rect x="59" y="378" width="803" height="6" fill="#ff0000"/><rect x="59" y="399" width="803" height="6" fill="#ff0000"/><rect x="59" y="420" width="654" height="6" fill="#ff0000"/><rect x="736" y="420" width="2" height="6" fill="#0000ff"/><rect x="59" y="441" width="803" height="6" fill="#0000ff"/><rect x="59" y="462" width="803" height="6" fill="#8b4513"/><rect x="59" y="483" width="803" height="6" fill="#0000ff"/><rect x="59" y="504" width="803" height="6" fill="#ff0000"/><rect x="59" y="525" width="531" height="6" fill="#ff0000"/><rect x="681" y="525" width="181" height="6" fill="#0000ff"/><rect x="59" y="546" width="803" height="6" fill="#ff0000"/><rect x="59" y="567" width="803" height="6" fill="#ff0000"/><rect x="59" y="588" width="803" height="6" fill="#ff0000"/><rect x="59" y="609" width="803" height="6" fill="#ff0000"/><rect x="59" y="630" width="49" height="6" fill="#ff0000"/><rect x="222" y="630" width="491" height="6" fill="#ff0000"/><rect x="778" y="630" width="84" height="6" fill="#0000ff"/><rect x="59" y="651" width="803" height="6" fill="#ff0000"/><rect x="59" y="672" width="803" height="6" fill="#ff0000"/><rect x="59" y="693" width="803" height="6" fill="#ff0000"/><rect x="59" y="714" width="803" height="6" fill="#ff0000"/><rect x="59" y="735" width="803" height="6" fill="#0000ff"/><rect x="59" y="758" width="803" height="1" fill="#ff0000"/><rect x="59" y="777" width="145" height="6" fill="#ff0000"/><rect x="243" y="777" width="619" height="6" fill="#0000ff"/><rect x="59" y="798" width="404" height="6" fill="#ff0000"/><rect x="506" y="798" width="356" height="6" fill="#ff0000"/><rect x="59" y="819" width="803" height="6" fill="#ff0000"/><rect x="59" y="840" width="773" height="6" fill="#ff0000"/><rect x="59" y="861" width="803" height="6" fill="#ff0000"/><rect x="59" y="882" width="803" height="6" fill="#ff0000"/><rect x="59" y="905" width="168" height="1" fill="#0000ff"/><rect x="225" y="903" width="2" height="6" fill="#0000ff"/><rect x="299" y="903" width="563" height="6" fill="#0000ff"/><rect x="59" y="926" width="79" height="1" fill="#ff0000"/><rect x="136" y="924" width="2" height="6" fill="#ff0000"/><rect x="203" y="924" width="659" height="6" fill="#ff0000"/><rect x="59" y="945" width="531" height="6" fill="#ff0000"/><rect x="689" y="945" width="173" height="6" fill="#ff0000"/><rect x="59" y="966" width="803" height="6" fill="#ff0000"/><rect x="59" y="987" width="803" height="6" fill="#ff0000"/><rect x="59" y="1008" width="803" height="6" fill="#ff0000"/><rect x="59" y="1029" width="174" height="6" fill="#ff0000"/><rect x="317" y="1029" width="545" height="6" fill="#8b4513"/><rect x="59" y="1050" width="803" height="6" fill="#ff0000"/><rect x="59" y="1071" width="352" height="6" fill="#ff0000"/><rect x="452" y="1071" width="410" height="6" fill="#0000ff"/><rect x="129" y="1094" width="67" height="1" fill="#0000ff"/><rect x="129" y="1092" width="2" height="6" fill="#0000ff"/><rect x="194" y="1092" width="2" height="6" fill="#0000ff"/><rect x="506" y="1092" width="207" height="6" fill="#0000ff"/><rect x="792" y="1092" width="70" height="6" fill="#0000ff"/><rect x="146" y="1113" width="716" height="6" fill="#0000ff"/><rect x="146" y="1134" width="716" height="6" fill="#0000ff"/><rect x="152" y="1155" width="2" height="6" fill="#0000ff"/><rect x="506" y="1155" width="356" height="6" fill="#ff0000"/><rect x="152" y="1176" width="2" height="6" fill="#0000ff"/><rect x="506" y="1176" width="356" height="6" fill="#ff0000"/><rect x="517" y="1197" width="345" height="6" fill="#0000ff"/><rect x="517" y="1218" width="345" height="6" fill="#0000ff"/><rect x="517" y="1239" width="345" height="6" fill="#0000ff"/><rect x="575" y="1260" width="287" height="6" fill="#0000ff"/><rect x="712" y="1281" width="150" height="6" fill="#ff0000"/><rect x="822" y="1302" width="40" height="6" fill="#ff0000"/>
<rect x="213" y="1355" width="13" height="10" fill="#ff00ff"/><rect x="253" y="1355" width="3" height="10" fill="#ff00ff"/><rect x="262" y="1355" width="5" height="10" fill="#ff00ff"/><rect x="276" y="1355" width="2" height="10" fill="#ff00ff"/><rect x="290" y="1355" width="2" height="10" fill="#ff00ff"/><rect x="306" y="1355" width="2" height="10" fill="#ff00ff"/><rect x="324" y="1355" width="2" height="10" fill="#ff00ff"/><rect x="238" y="1355" width="3" height="1" fill="#ff00ff"/><rect x="258" y="1355" width="1" height="1" fill="#ff00ff"/><rect x="271" y="1355" width="1" height="1" fill="#ff00ff"/><rect x="283" y="1355" width="1" height="1" fill="#ff00ff"/><rect x="298" y="1355" width="1" height="1" fill="#ff00ff"/><rect x="314" y="1355" width="2" height="1" fill="#ff00ff"/><rect x="234" y="1356" width="4" height="1" fill="#ff00ff"/><rect x="241" y="1356" width="3" height="1" fill="#ff00ff"/><rect x="257" y="1356" width="1" height="1" fill="#ff00ff"/><rect x="259" y="1356" width="1" height="1" fill="#ff00ff"/><rect x="270" y="1356" width="1" height="1" fill="#ff00ff"/><rect x="272" y="1356" width="1" height="1" fill="#ff00ff"/><rect x="281" y="1356" width="2" height="1" fill="#ff00ff"/><rect x="284" y="1356" width="2" height="1" fill="#ff00ff"/><rect x="296" y="1356" width="2" height="1" fill="#ff00ff"/><rect x="299" y="1356" width="2" height="1" fill="#ff00ff"/><rect x="312" y="1356" width="2" height="1" fill="#ff00ff"/><rect x="316" y="1356" width="2" height="1" fill="#ff00ff"/><rect x="231" y="1357" width="3" height="1" fill="#ff00ff"/><rect x="244" y="1357" width="4" height="1" fill="#ff00ff"/><rect x="256" y="1357" width="1" height="1" fill="#ff00ff"/><rect x="260" y="1357" width="1" height="1" fill="#ff00ff"/><rect x="268" y="1357" width="2" height="1" fill="#ff00ff"/><rect x="273" y="1357" width="1" height="1" fill="#ff00ff"/><rect x="280" y="1357" width="1" height="1" fill="#ff00ff"/><rect x="286" y="1357" width="1" height="1" fill="#ff00ff"/><rect x="294" y="1357" width="2" height="1" fill="#ff00ff"/><rect x="301" y="1357" width="2" height="1" fill="#ff00ff"/><rect x="310" y="1357" width="2" height="1" fill="#ff00ff"/><rect x="318" y="1357" width="2" height="1" fill="#ff00ff"/><rect x="227" y="1358" width="4" height="1" fill="#ff00ff"/><rect x="248" y="1358" width="3" height="1" fill="#ff00ff"/><rect x="256" y="1358" width="1" height="1" fill="#ff00ff"/><rect x="260" y="1358" width="1" height="1" fill="#ff00ff"/><rect x="267" y="1358" width="1" height="1" fill="#ff00ff"/><rect x="274" y="1358" width="1" height="1" fill="#ff00ff"/><rect x="278" y="1358" width="2" height="1" fill="#ff00ff"/><rect x="287" y="1358" width="2" height="1" fill="#ff00ff"/><rect x="292" y="1358" width="2" height="1" fill="#ff00ff"/><rect x="303" y="1358" width="2" height="1" fill="#ff00ff"/><rect x="308" y="1358" width="2" height="1" fill="#ff00ff"/><rect x="320" y="1358" width="2" height="1" fill="#ff00ff"/><rect x="225" y="1359" width="2" height="1" fill="#ff00ff"/><rect x="251" y="1359" width="2" height="1" fill="#ff00ff"/><rect x="255" y="1359" width="1" height="1" fill="#ff00ff"/><rect x="261" y="1359" width="1" height="1" fill="#ff00ff"/><rect x="266" y="1359" width="1" height="1" fill="#ff00ff"/><rect x="275" y="1359" width="1" height="1" fill="#ff00ff"/><rect x="277" y="1359" width="1" height="1" fill="#ff00ff"/><rect x="289" y="1359" width="1" height="1" fill="#ff00ff"/><rect x="291" y="1359" width="1" height="1" fill="#ff00ff"/><rect x="305" y="1359" width="1" height="1" fill="#ff00ff"/><rect x="307" y="1359" width="1" height="1" fill="#ff00ff"/><rect x="322" y="1359" width="2" height="1" fill="#ff00ff"/>
<g fill="#000">
<use href="#s37" x="84" y="33"/><use href="#s35" x="90" y="33"/><use href="#s35" x="96" y="33"/><use href="#s34" x="102" y="33"/><use href="#s30" x="108" y="33"/><use href="#s6b" x="114" y="33"/>
<use href="#s37" x="167" y="33"/><use href="#s35" x="173" y="33"/><use href="#s35" x="179" y="33"/><use href="#s35" x="185" y="33"/><use href="#s30" x="191" y="33"/><use href="#s6b" x="197" y="33"/>
<use href="#s37" x="250" y="33"/><use href="#s35" x="256" y="33"/><use href="#s35" x="262" y="33"/><use href="#s36" x="268" y="33"/><use href="#s30" x="274" y="33"/><use href="#s6b" x="280" y="33"/>
<use href="#s37" x="333" y="33"/><use href="#s35" x="339" y="33"/><use href="#s35" x="345" y="33"/><use href="#s37" x="351" y="33"/><use href="#s30" x="357" y="33"/><use href="#s6b" x="363" y="33"/>
<use href="#s37" x="416" y="33"/><use href="#s35" x="422" y="33"/><use href="#s35" x="428" y="33"/><use href="#s38" x="434" y="33"/><use href="#s30" x="440" y="33"/><use href="#s6b" x="446" y="33"/>
<use href="#s37" x="499" y="33"/><use href="#s35" x="505" y="33"/><use href="#s35" x="511" y="33"/><use href="#s39" x="517" y="33"/><use href="#s30" x="523" y="33"/><use href="#s6b" x="529" y="33"/>
<use href="#s37" x="581" y="33"/><use href="#s35" x="587" y="33"/><use href="#s36" x="593" y="33"/><use href="#s30" x="599" y="33"/><use href="#s30" x="605" y="33"/><use href="#s6b" x="611" y="33"/>
<use href="#s37" x="664" y="33"/><use href="#s35" x="670" y="33"/><use href="#s36" x="676" y="33"/><use href="#s31" x="682" y="33"/><use href="#s30" x="688" y="33"/><use href="#s6b" x="694" y="33"/>
<use href="#s37" x="747" y="33"/><use href="#s35" x="753" y="33"/><use href="#s36" x="759" y="33"/><use href="#s32" x="765" y="33"/><use href="#s30" x="771" y="33"/><use href="#s6b" x="777" y="33"/>
<use href="#s37" x="830" y="33"/><use href="#s35" x="836" y="33"/><use href="#s36" x="842" y="33"/><use href="#s33" x="848" y="33"/><use href="#s30" x="854" y="33"/><use href="#s6b" x="860" y="33"/>
<use href="#s63" x="61" y="14"/><use href="#s68" x="67" y="14"/><use href="#s72" x="73" y="14"/><use href="#s33" x="79" y="14"/><use href="#s3a" x="85" y="14"/><use href="#s37" x="91" y="14"/><use href="#s35" x="97" y="14"/><use href="#s35" x="103" y="14"/><use href="#s33" x="109" y="14"/><use href="#s34" x="115" y="14"/><use href="#s39" x="121" y="14"/><use href="#s36" x="127" y="14"/><use href="#s33" x="133" y="14"/><use href="#s2e" x="139" y="14"/><use href="#s2e" x="145" y="14"/><use href="#s37" x="151" y="14"/><use href="#s35" x="157" y="14"/><use href="#s36" x="163" y="14"/><use href="#s33" x="169" y="14"/><use href="#s31" x="175" y="14"/><use href="#s34" x="181" y="14"/><use href="#s31" x="187" y="14"/><use href="#s32" x="193" y="14"/>
<use href="#b43" x="60" y="67"/><use href="#b79" x="67" y="67"/><use href="#b74" x="74" y="67"/><use href="#b6f" x="81" y="67"/><use href="#b67" x="88" y="67"/><use href="#b65" x="95" y="67"/><use href="#b6e" x="102" y="67"/><use href="#b65" x="109" y="67"/><use href="#b74" x="116" y="67"/><use href="#b69" x="123" y="67"/><use href="#b63" x="130" y="67"/><use href="#b42" x="144" y="67"/><use href="#b61" x="151" y="67"/><use href="#b6e" x="158" y="67"/><use href="#b64" x="165" y="67"/><use href="#b73" x="172" y="67"/>
<use href="#s33" x="61" y="79"/><use href="#s70" x="67" y="79"/><use href="#s31" x="73" y="79"/><use href="#s32" x="79" y="79"/><use href="#s2e" x="85" y="79"/><use href="#s33" x="91" y="79"/>
<use href="#b44" x="60" y="121"/><use href="#b47" x="67" y="121"/><use href="#b56" x="74" y="121"/><use href="#b53" x="88" y="121"/><use href="#b74" x="95" y="121"/><use href="#b72" x="102" y="121"/><use href="#b75" x="109" y="121"/><use href="#b63" x="116" y="121"/><use href="#b74" x="123" y="121"/><use href="#b75" x="130" y="121"/><use href="#b72" x="137" y="121"/><use href="#b61" x="144" y="121"/><use href="#b6c" x="151" y="121"/><use href="#b56" x="165" y="121"/><use href="#b61" x="172" y="121"/><use href="#b72" x="179" y="121"/><use href="#b69" x="186" y="121"/><use href="#b61" x="193" y="121"/><use href="#b6e" x="200" y="121"/><use href="#b74" x="207" y="121"/><use href="#b73" x="214" y="121"/><use href="#b28" x="228" y="121"/><use href="#b42" x="235" y="121"/><use href="#b6c" x="242" y="121"/><use href="#b75" x="249" y="121"/><use href="#b65" x="256" y="121"/><use href="#b3a" x="263" y="121"/><use href="#b47" x="270" y="121"/><use href="#b61" x="277" y="121"/><use href="#b69" x="284" y="121"/><use href="#b6e" x="291" y="121"/><use href="#b3b" x="298" y="121"/><use href="#b52" x="305" y="121"/><use href="#b65" x="312" y="121"/><use href="#b64" x="319" y="121"/><use href="#b3a" x="326" y="121"/><use href="#b4c" x="333" y="121"/><use href="#b6f" x="340" y="121"/><use href="#b73" x="347" y="121"/><use href="#b73" x="354" y="121"/><use href="#b3b" x="361" y="121"/><use href="#b42" x="368" y="121"/><use href="#b72" x="375" y="121"/><use href="#b6f" x="382" y="121"/><use href="#b77" x="389" y="121"/><use href="#b6e" x="396" y="121"/><use href="#b3a" x="403" y="121"/><use href="#b43" x="410" y="121"/><use href="#b6f" x="417" y="121"/><use href="#b6d" x="424" y="121"/><use href="#b70" x="431" y="121"/><use href="#b6c" x="438" y="121"/><use href="#b65" x="445" y="121"/><use href="#b78" x="452" y="121"/><use href="#b3b" x="459" y="121"/><use href="#b50" x="466" y="121"/><use href="#b75" x="473" y="121"/><use href="#b72" x="480" y="121"/><use href="#b70" x="487" y="121"/><use href="#b6c" x="494" y="121"/><use href="#b65" x="501" y="121"/><use href="#b3a" x="508" y="121"/><use href="#b49" x="515" y="121"/><use href="#b6e" x="522" y="121"/><use href="#b76" x="529" y="121"/><use href="#b65" x="536" y="121"/><use href="#b72" x="543" y="121"/><use href="#b73" x="550" y="121"/><use href="#b69" x="557" y="121"/><use href="#b6f" x="564" y="121"/><use href="#b6e" x="571" y="121"/><use href="#b3b" x="578" y="121"/><use href="#b42" x="585" y="121"/><use href="#b6c" x="592" y="121"/><use href="#b61" x="599" y="121"/><use href="#b63" x="606" y="121"/><use href="#b6b" x="613" y="121"/><use href="#b3a" x="620" y="121"/><use href="#b55" x="627" y="121"/><use href="#b6e" x="634" y="121"/><use href="#b6b" x="641" y="121"/><use href="#b6e" x="648" y="121"/><use href="#b6f" x="655" y="121"/><use href="#b77" x="662" y="121"/><use href="#b6e" x="669" y="121"/><use href="#b29" x="676" y="121"/>
<use href="#s6e" x="61" y="133"/><use href="#s73" x="67" y="133"/><use href="#s76" x="73" y="133"/><use href="#s31" x="79" y="133"/><use href="#s30" x="85" y="133"/><use href="#s30" x="91" y="133"/><use href="#s32" x="97" y="133"/><use href="#s32" x="103" y="133"/><use href="#s31" x="109" y="133"/><use href="#s38" x="115" y="133"/><use href="#s28" x="127" y="133"/><use href="#s43" x="133" y="133"/><use href="#s6f" x="139" y="133"/><use href="#s65" x="145" y="133"/><use href="#s32" x="151" y="133"/><use href="#s30" x="157" y="133"/><use href="#s31" x="163" y="133"/><use href="#s34" x="169" y="133"/><use href="#s29" x="175" y="133"/>
<use href="#s65" x="61" y="154"/><use href="#s73" x="67" y="154"/><use href="#s76" x="73" y="154"/><use href="#s32" x="79" y="154"/><use href="#s34" x="85" y="154"/><use href="#s32" x="91" y="154"/><use href="#s32" x="97" y="154"/><use href="#s32" x="103" y="154"/><use href="#s34" x="109" y="154"/><use href="#s30" x="115" y="154"/><use href="#s28" x="127" y="154"/><use href="#s53" x="133" y="154"/><use href="#s69" x="139" y="154"/><use href="#s6d" x="145" y="154"/><use href="#s6f" x="151" y="154"/><use href="#s6e" x="157" y="154"/><use href="#s53" x="163" y="154"/><use href="#s61" x="169" y="154"/><use href="#s6e" x="175" y="154"/><use href="#s63" x="181" y="154"/><use href="#s68" x="187" y="154"/><use href="#s65" x="193" y="154"/><use href="#s7a" x="199" y="154"/><use href="#s32" x="205" y="154"/><use href="#s30" x="211" y="154"/><use href="#s30" x="217" y="154"/><use href="#s37" x="223" y="154"/><use href="#s29" x="229" y="154"/>
<use href="#s65" x="61" y="175"/><use href="#s73" x="67" y="175"/><use href="#s76" x="73" y="175"/><use href="#s33" x="79" y="175"/><use href="#s38" x="85" y="175"/><use href="#s39" x="91" y="175"/><use href="#s33" x="97" y="175"/><use href="#s37" x="103" y="175"/><use href="#s32" x="109" y="175"/><use href="#s35" x="115" y="175"/><use href="#s28" x="127" y="175"/><use href="#s53" x="133" y="175"/><use href="#s75" x="139" y="175"/><use href="#s6b" x="145" y="175"/><use href="#s74" x="151" y="175"/><use href="#s69" x="157" y="175"/><use href="#s74" x="163" y="175"/><use href="#s69" x="169" y="175"/><use href="#s70" x="175" y="175"/><use href="#s61" x="181" y="175"/><use href="#s74" x="187" y="175"/><use href="#s32" x="193" y="175"/><use href="#s30" x="199" y="175"/><use href="#s31" x="205" y="175"/><use href="#s34" x="211" y="175"/><use href="#s29" x="217" y="175"/>
<use href="#s65" x="61" y="196"/><use href="#s73" x="67" y="196"/><use href="#s76" x="73" y="196"/><use href="#s32" x="79" y="196"/><use href="#s34" x="85" y="196"/><use href="#s32" x="91" y="196"/><use href="#s32" x="97" y="196"/><use href="#s33" x="103" y="196"/><use href="#s31" x="109" y="196"/><use href="#s35" x="115" y="196"/><use href="#s28" x="127" y="196"/><use href="#s53" x="133" y="196"/><use href="#s69" x="139" y="196"/><use href="#s6d" x="145" y="196"/><use href="#s6f" x="151" y="196"/><use href="#s6e" x="157" y="196"/><use href="#s53" x="163" y="196"/><use href="#s61" x="169" y="196"/><use href="#s6e" x="175" y="196"/><use href="#s63" x="181" y="196"/><use href="#s68" x="187" y="196"/><use href="#s65" x="193" y="196"/><use href="#s7a" x="199" y="196"/><use href="#s32" x="205" y="196"/><use href="#s30" x="211" y="196"/><use href="#s30" x="217" y="196"/><use href="#s37" x="223" y="196"/><use href="#s29" x="229" y="196"/>
<use href="#s65" x="61" y="217"/><use href="#s73" x="67" y="217"/><use href="#s76" x="73" y="217"/><use href="#s32" x="79" y="217"/><use href="#s37" x="85" y="217"/><use href="#s35" x="91" y="217"/><use href="#s39" x="97" y="217"/><use href="#s31" x="103" y="217"/><use href="#s35" x="109" y="217"/><use href="#s37" x="115" y="217"/><use href="#s28" x="127" y="217"/><use href="#s52" x="133" y="217"/><use href="#s65" x="139" y="217"/><use href="#s64" x="145" y="217"/><use href="#s6f" x="151" y="217"/><use href="#s6e" x="157" y="217"/><use href="#s32" x="163" y="217"/><use href="#s30" x="169" y="217"/><use href="#s30" x="175" y="217"/><use href="#s36" x="181" y="217"/><use href="#s29" x="187" y="217"/>
<use href="#s6e" x="61" y="238"/><use href="#s73" x="67" y="238"/><use href="#s76" x="73" y="238"/><use href="#s35" x="79" y="238"/><use href="#s30" x="85" y="238"/><use href="#s38" x="91" y="238"/><use href="#s39" x="97" y="238"/><use href="#s33" x="103" y="238"/><use href="#s33" x="109" y="238"/><use href="#s28" x="121" y="238"/><use href="#s54" x="127" y="238"/><use href="#s65" x="133" y="238"/><use href="#s61" x="139" y="238"/><use href="#s67" x="145" y="238"/><use href="#s75" x="151" y="238"/><use href="#s65" x="157" y="238"/><use href="#s32" x="163" y="238"/><use href="#s30" x="169" y="238"/><use href="#s31" x="175" y="238"/><use href="#s30" x="181" y="238"/><use href="#s29" x="187" y="238"/>
<use href="#s64" x="452" y="238"/><use href="#s67" x="458" y="238"/><use href="#s76" x="464" y="238"/><use href="#s34" x="470" y="238"/><use href="#s37" x="476" y="238"/><use href="#s38" x="482" y="238"/><use href="#s36" x="488" y="238"/><use href="#s6e" x="494" y="238"/><use href="#s31" x="500" y="238"/><use href="#s30" x="506" y="238"/><use href="#s30" x="512" y="238"/><use href="#s28" x="524" y="238"/><use href="#s43" x="530" y="238"/><use href="#s6f" x="536" y="238"/><use href="#s65" x="542" y="238"/><use href="#s32" x="548" y="238"/><use href="#s30" x="554" y="238"/><use href="#s31" x="560" y="238"/><use href="#s34" x="566" y="238"/><use href="#s29" x="572" y="238"/>
<use href="#s6e" x="61" y="259"/><use href="#s73" x="67" y="259"/><use href="#s76" x="73" y="259"/><use href="#s35" x="79" y="259"/><use href="#s32" x="85" y="259"/><use href="#s39" x="91" y="259"/><use href="#s30" x="97" y="259"/><use href="#s31" x="103" y="259"/><use href="#s36" x="109" y="259"/><use href="#s28" x="121" y="259"/><use href="#s53" x="127" y="259"/><use href="#s68" x="133" y="259"/><use href="#s61" x="139" y="259"/><use href="#s69" x="145" y="259"/><use href="#s6b" x="151" y="259"/><use href="#s68" x="157" y="259"/><use href="#s32" x="163" y="259"/><use href="#s30" x="169" y="259"/><use href="#s30" x="175" y="259"/><use href="#s39" x="181" y="259"/><use href="#s29" x="187" y="259"/>
<use href="#s6e" x="61" y="280"/><use href="#s73" x="67" y="280"/><use href="#s76" x="73" y="280"/><use href="#s35" x="79" y="280"/><use href="#s31" x="85" y="280"/><use href="#s37" x="91" y="280"/><use href="#s31" x="97" y="280"/><use href="#s37" x="103" y="280"/><use href="#s33" x="109" y="280"/><use href="#s28" x="121" y="280"/><use href="#s53" x="127" y="280"/><use href="#s68" x="133" y="280"/><use href="#s61" x="139" y="280"/><use href="#s69" x="145" y="280"/><use href="#s6b" x="151" y="280"/><use href="#s68" x="157" y="280"/><use href="#s32" x="163" y="280"/><use href="#s30" x="169" y="280"/><use href="#s30" x="175" y="280"/><use href="#s39" x="181" y="280"/><use href="#s29" x="187" y="280"/>
<use href="#s65" x="61" y="301"/><use href="#s73" x="67" y="301"/><use href="#s76" x="73" y="301"/><use href="#s32" x="79" y="301"/><use href="#s36" x="85" y="301"/><use href="#s35" x="91" y="301"/><use href="#s38" x="97" y="301"/><use href="#s31" x="103" y="301"/><use href="#s28" x="115" y="301"/><use href="#s43" x="121" y="301"/><use href="#s6f" x="127" y="301"/><use href="#s6e" x="133" y="301"/><use href="#s72" x="139" y="301"/><use href="#s61" x="145" y="301"/><use href="#s64" x="151" y="301"/><use href="#s32" x="157" y="301"/><use href="#s30" x="163" y="301"/><use href="#s30" x="169" y="301"/><use href="#s39" x="175" y="301"/><use href="#s29" x="181" y="301"/>
<use href="#s6e" x="61" y="322"/><use href="#s73" x="67" y="322"/><use href="#s76" x="73" y="322"/><use href="#s35" x="79" y="322"/><use href="#s39" x="85" y="322"/><use href="#s30" x="91" y="322"/><use href="#s36" x="97" y="322"/><use href="#s34" x="103" y="322"/><use href="#s32" x="109" y="322"/><use href="#s28" x="121" y="322"/><use href="#s43" x="127" y="322"/><use href="#s6f" x="133" y="322"/><use href="#s6f" x="139" y="322"/><use href="#s70" x="145" y="322"/><use href="#s65" x="151" y="322"/><use href="#s72" x="157" y="322"/><use href="#s32" x="163" y="322"/><use href="#s30" x="169" y="322"/><use href="#s31" x="175" y="322"/><use href="#s31" x="181" y="322"/><use href="#s29" x="187" y="322"/>
<use href="#s64" x="61" y="343"/><use href="#s67" x="67" y="343"/><use href="#s76" x="73" y="343"/><use href="#s36" x="79" y="343"/><use href="#s30" x="85" y="343"/><use href="#s39" x="91" y="343"/><use href="#s6e" x="97" y="343"/><use href="#s32" x="103" y="343"/><use href="#s37" x="109" y="343"/><use href="#s28" x="121" y="343"/><use href="#s49" x="127" y="343"/><use href="#s74" x="133" y="343"/><use href="#s73" x="139" y="343"/><use href="#s61" x="145" y="343"/><use href="#s72" x="151" y="343"/><use href="#s61" x="157" y="343"/><use href="#s32" x="163" y="343"/><use href="#s30" x="169" y="343"/><use href="#s30" x="175" y="343"/><use href="#s39" x="181" y="343"/><use href="#s29" x="187" y="343"/>
<use href="#s64" x="61" y="364"/><use href="#s67" x="67" y="364"/><use href="#s76" x="73" y="364"/><use href="#s31" x="79" y="364"/><use href="#s38" x="85" y="364"/><use href="#s30" x="91" y="364"/><use href="#s65" x="97" y="364"/><use href="#s35" x="103" y="364"/><use href="#s35" x="109" y="364"/><use href="#s28" x="121" y="364"/><use href="#s50" x="127" y="364"/><use href="#s69" x="133" y="364"/><use href="#s6e" x="139" y="364"/><use href="#s74" x="145" y="364"/><use href="#s6f" x="151" y="364"/><use href="#s32" x="157" y="364"/><use href="#s30" x="163" y="364"/><use href="#s30" x="169" y="364"/><use href="#s37" x="175" y="364"/><use href="#s29" x="181" y="364"/>
<use href="#s64" x="61" y="385"/><use href="#s67" x="67" y="385"/><use href="#s76" x="73" y="385"/><use href="#s31" x="79" y="385"/><use href="#s38" x="85" y="385"/><use href="#s31" x="91" y="385"/><use href="#s65" x="97" y="385"/><use href="#s35" x="103" y="385"/><use href="#s35" x="109" y="385"/><use href="#s28" x="121" y="385"/><use href="#s50" x="127" y="385"/><use href="#s69" x="133" y="385"/><use href="#s6e" x="139" y="385"/><use href="#s74" x="145" y="385"/><use href="#s6f" x="151" y="385"/><use href="#s32" x="157" y="385"/><use href="#s30" x="163" y="385"/><use href="#s30" x="169" y="385"/><use href="#s37" x="175" y="385"/><use href="#s29" x="181" y="385"/>
<use href="#s64" x="61" y="406"/><use href="#s67" x="67" y="406"/><use href="#s76" x="73" y="406"/><use href="#s38" x="79" y="406"/><use href="#s33" x="85" y="406"/><use href="#s37" x="91" y="406"/><use href="#s39" x="97" y="406"/><use href="#s6e" x="103" y="406"/><use href="#s35" x="109" y="406"/><use href="#s34" x="115" y="406"/><use href="#s28" x="127" y="406"/><use href="#s43" x="133" y="406"/><use href="#s6f" x="139" y="406"/><use href="#s6f" x="145" y="406"/><use href="#s70" x="151" y="406"/><use href="#s65" x="157" y="406"/><use href="#s72" x="163" y="406"/><use href="#s32" x="169" y="406"/><use href="#s30" x="175" y="406"/><use href="#s31" x="181" y="406"/><use href="#s31" x="187" y="406"/><use href="#s29" x="193" y="406"/>
<use href="#s65" x="736" y="406"/><use href="#s73" x="742" y="406"/><use href="#s76" x="748" y="406"/><use href="#s33" x="754" y="406"/><use href="#s33" x="760" y="406"/><use href="#s37" x="766" y="406"/><use href="#s35" x="772" y="406"/><use href="#s32" x="778" y="406"/><use href="#s34" x="784" y="406"/><use href="#s32" x="790" y="406"/><use href="#s28" x="802" y="406"/><use href="#s31" x="808" y="406"/><use href="#s30" x="814" y="406"/><use href="#s30" x="820" y="406"/><use href="#s30" x="826" y="406"/><use href="#s47" x="832" y="406"/><use href="#s65" x="838" y="406"/><use href="#s6e" x="844" y="406"/><use href="#s6f" x="850" y="406"/><use href="#s6d" x="856" y="406"/><use href="#s65" x="862" y="406"/><use href="#s73" x="868" y="406"/><use href="#s43" x="874" y="406"/><use href="#s6f" x="880" y="406"/><use href="#s6e" x="886" y="406"/><use href="#s73" x="892" y="406"/><use href="#s6f" x="898" y="406"/><use href="#s72" x="904" y="406"/><use href="#s74" x="910" y="406"/><use href="#s69" x="916" y="406"/><use href="#s75" x="922" y="406"/><use href="#s6d" x="928" y="406"/><use href="#s32" x="934" y="406"/><use href="#s30" x="940" y="406"/><use href="#s31" x="946" y="406"/><use href="#s35" x="952" y="406"/><use href="#s29" x="958" y="406"/>
<use href="#s6e" x="61" y="427"/><use href="#s73" x="67" y="427"/><use href="#s76" x="73" y="427"/><use href="#s39" x="79" y="427"/><use href="#s36" x="85" y="427"/><use href="#s35" x="91" y="427"/><use href="#s31" x="97" y="427"/><use href="#s37" x="103" y="427"/><use href="#s36" x="109" y="427"/><use href="#s28" x="121" y="427"/><use href="#s53" x="127" y="427"/><use href="#s75" x="133" y="427"/><use href="#s64" x="139" y="427"/><use href="#s6d" x="145" y="427"/><use href="#s61" x="151" y="427"/><use href="#s6e" x="157" y="427"/><use href="#s74" x="163" y="427"/><use href="#s32" x="169" y="427"/><use href="#s30" x="175" y="427"/><use href="#s31" x="181" y="427"/><use href="#s33" x="187" y="427"/><use href="#s29" x="193" y="427"/>
<use href="#s65" x="61" y="448"/><use href="#s73" x="67" y="448"/><use href="#s76" x="73" y="448"/><use href="#s32" x="79" y="448"/><use href="#s37" x="85" y="448"/><use href="#s36" x="91" y="448"/><use href="#s33" x="97" y="448"/><use href="#s37" x="103" y="448"/><use href="#s35" x="109" y="448"/><use href="#s35" x="115" y="448"/><use href="#s28" x="127" y="448"/><use href="#s56" x="133" y="448"/><use href="#s6f" x="139" y="448"/><use href="#s67" x="145" y="448"/><use href="#s6c" x="151" y="448"/><use href="#s65" x="157" y="448"/><use href="#s72" x="163" y="448"/><use href="#s32" x="169" y="448"/><use href="#s30" x="175" y="448"/><use href="#s31" x="181" y="448"/><use href="#s30" x="187" y="448"/><use href="#s29" x="193" y="448"/>
<use href="#s64" x="61" y="469"/><use href="#s67" x="67" y="469"/><use href="#s76" x="73" y="469"/><use href="#s34" x="79" y="469"/><use href="#s37" x="85" y="469"/><use href="#s37" x="91" y="469"/><use href="#s33" x="97" y="469"/><use href="#s6e" x="103" y="469"/><use href="#s31" x="109" y="469"/><use href="#s30" x="115" y="469"/><use href="#s30" x="121" y="469"/><use href="#s28" x="133" y="469"/><use href="#s43" x="139" y="469"/><use href="#s6f" x="145" y="469"/><use href="#s65" x="151" y="469"/><use href="#s32" x="157" y="469"/><use href="#s30" x="163" y="469"/><use href="#s31" x="169" y="469"/><use href="#s34" x="175" y="469"/><use href="#s29" x="181" y="469"/>
<use href="#s64" x="61" y="490"/><use href="#s67" x="67" y="490"/><use href="#s76" x="73" y="490"/><use href="#s34" x="79" y="490"/><use href="#s37" x="85" y="490"/><use href="#s37" x="91" y="490"/><use href="#s34" x="97" y="490"/><use href="#s6e" x="103" y="490"/><use href="#s31" x="109" y="490"/><use href="#s30" x="115" y="490"/><use href="#s30" x="121" y="490"/><use href="#s28" x="133" y="490"/><use href="#s43" x="139" y="490"/><use href="#s6f" x="145" y="490"/><use href="#s65" x="151" y="490"/><use href="#s32" x="157" y="490"/><use href="#s30" x="163" y="490"/><use href="#s31" x="169" y="490"/><use href="#s34" x="175" y="490"/><use href="#s29" x="181" y="490"/>
<use href="#s64" x="61" y="511"/><use href="#s67" x="67" y="511"/><use href="#s76" x="73" y="511"/><use href="#s34" x="79" y="511"/><use href="#s37" x="85" y="511"/><use href="#s37" x="91" y="511"/><use href="#s35" x="97" y="511"/><use href="#s6e" x="103" y="511"/><use href="#s31" x="109" y="511"/><use href="#s30" x="115" y="511"/><use href="#s30" x="121" y="511"/><use href="#s28" x="133" y="511"/><use href="#s43" x="139" y="511"/><use href="#s6f" x="145" y="511"/><use href="#s65" x="151" y="511"/><use href="#s32" x="157" y="511"/><use href="#s30" x="163" y="511"/><use href="#s31" x="169" y="511"/><use href="#s34" x="175" y="511"/><use href="#s29" x="181" y="511"/>
<use href="#s64" x="681" y="511"/><use href="#s67" x="687" y="511"/><use href="#s76" x="693" y="511"/><use href="#s34" x="699" y="511"/><use href="#s37" x="705" y="511"/><use href="#s39" x="711" y="511"/><use href="#s32" x="717" y="511"/><use href="#s6e" x="723" y="511"/><use href="#s31" x="729" y="511"/><use href="#s30" x="735" y="511"/><use href="#s30" x="741" y="511"/><use href="#s28" x="753" y="511"/><use href="#s43" x="759" y="511"/><use href="#s6f" x="765" y="511"/><use href="#s65" x="771" y="511"/><use href="#s32" x="777" y="511"/><use href="#s30" x="783" y="511"/><use href="#s31" x="789" y="511"/><use href="#s34" x="795" y="511"/><use href="#s29" x="801" y="511"/>
<use href="#s64" x="61" y="532"/><use href="#s67" x="67" y="532"/><use href="#s76" x="73" y="532"/><use href="#s34" x="79" y="532"/><use href="#s37" x="85" y="532"/><use href="#s37" x="91" y="532"/><use href="#s36" x="97" y="532"/><use href="#s6e" x="103" y="532"/><use href="#s31" x="109" y="532"/><use href="#s30" x="115" y="532"/><use href="#s30" x="121" y="532"/><use href="#s28" x="133" y="532"/><use href="#s43" x="139" y="532"/><use href="#s6f" x="145" y="532"/><use href="#s65" x="151" y="532"/><use href="#s32" x="157" y="532"/><use href="#s30" x="163" y="532"/><use href="#s31" x="169" y="532"/><use href="#s34" x="175" y="532"/><use href="#s29" x="181" y="532"/>
<use href="#s64" x="61" y="553"/><use href="#s67" x="67" y="553"/><use href="#s76" x="73" y="553"/><use href="#s34" x="79" y="553"/><use href="#s37" x="85" y="553"/><use href="#s37" x="91" y="553"/><use href="#s37" x="97" y="553"/><use href="#s6e" x="103" y="553"/><use href="#s31" x="109" y="553"/><use href="#s30" x="115" y="553"/><use href="#s30" x="121" y="553"/><use href="#s28" x="133" y="553"/><use href="#s43" x="139" y="553"/><use href="#s6f" x="145" y="553"/><use href="#s65" x="151" y="553"/><use href="#s32" x="157" y="553"/><use href="#s30" x="163" y="553"/><use href="#s31" x="169" y="553"/><use href="#s34" x="175" y="553"/><use href="#s29" x="181" y="553"/>
<use href="#s64" x="61" y="574"/><use href="#s67" x="67" y="574"/><use href="#s76" x="73" y="574"/><use href="#s38" x="79" y="574"/><use href="#s33" x="85" y="574"/><use href="#s38" x="91" y="574"/><use href="#s30" x="97" y="574"/><use href="#s6e" x="103" y="574"/><use href="#s35" x="109" y="574"/><use href="#s34" x="115" y="574"/><use href="#s28" x="127" y="574"/><use href="#s43" x="133" y="574"/><use href="#s6f" x="139" y="574"/><use href="#s6f" x="145" y="574"/><use href="#s70" x="151" y="574"/><use href="#s65" x="157" y="574"/><use href="#s72" x="163" y="574"/><use href="#s32" x="169" y="574"/><use href="#s30" x="175" y="574"/><use href="#s31" x="181" y="574"/><use href="#s31" x="187" y="574"/><use href="#s29" x="193" y="574"/>
<use href="#s6e" x="61" y="595"/><use href="#s73" x="67" y="595"/><use href="#s76" x="73" y="595"/><use href="#s39" x="79" y="595"/><use href="#s39" x="85" y="595"/><use href="#s37" x="91" y="595"/><use href="#s39" x="97" y="595"/><use href="#s34" x="103" y="595"/><use href="#s36" x="109" y="595"/><use href="#s28" x="121" y="595"/><use href="#s43" x="127" y="595"/><use href="#s6f" x="133" y="595"/><use href="#s65" x="139" y="595"/><use href="#s32" x="145" y="595"/><use href="#s30" x="151" y="595"/><use href="#s31" x="157" y="595"/><use href="#s34" x="163" y="595"/><use href="#s29" x="169" y="595"/>
<use href="#s65" x="61" y="616"/><use href="#s73" x="67" y="616"/><use href="#s76" x="73" y="616"/><use href="#s33" x="79" y="616"/><use href="#s38" x="85" y="616"/><use href="#s39" x="91" y="616"/><use href="#s33" x="97" y="616"/><use href="#s37" x="103" y="616"/><use href="#s32" x="109" y="616"/><use href="#s32" x="115" y="616"/><use href="#s28" x="127" y="616"/><use href="#s53" x="133" y="616"/><use href="#s75" x="139" y="616"/><use href="#s6b" x="145" y="616"/><use href="#s74" x="151" y="616"/><use href="#s69" x="157" y="616"/><use href="#s74" x="163" y="616"/><use href="#s69" x="169" y="616"/><use href="#s70" x="175" y="616"/><use href="#s61" x="181" y="616"/><use href="#s74" x="187" y="616"/><use href="#s32" x="193" y="616"/><use href="#s30" x="199" y="616"/><use href="#s31" x="205" y="616"/><use href="#s34" x="211" y="616"/><use href="#s29" x="217" y="616"/>
<use href="#s6e" x="222" y="616"/><use href="#s73" x="228" y="616"/><use href="#s76" x="234" y="616"/><use href="#s35" x="240" y="616"/><use href="#s39" x="246" y="616"/><use href="#s30" x="252" y="616"/><use href="#s37" x="258" y="616"/><use href="#s30" x="264" y="616"/><use href="#s30" x="270" y="616"/><use href="#s28" x="282" y="616"/><use href="#s43" x="288" y="616"/><use href="#s6f" x="294" y="616"/><use href="#s6f" x="300" y="616"/><use href="#s70" x="306" y="616"/><use href="#s65" x="312" y="616"/><use href="#s72" x="318" y="616"/><use href="#s32" x="324" y="616"/><use href="#s30" x="330" y="616"/><use href="#s31" x="336" y="616"/><use href="#s31" x="342" y="616"/><use href="#s29" x="348" y="616"/>
<use href="#s6e" x="778" y="616"/><use href="#s73" x="784" y="616"/><use href="#s76" x="790" y="616"/><use href="#s31" x="796" y="616"/><use href="#s30" x="802" y="616"/><use href="#s31" x="808" y="616"/><use href="#s32" x="814" y="616"/><use href="#s39" x="820" y="616"/><use href="#s32" x="826" y="616"/><use href="#s38" x="832" y="616"/><use href="#s28" x="844" y="616"/><use href="#s43" x="850" y="616"/><use href="#s6f" x="856" y="616"/><use href="#s65" x="862" y="616"/><use href="#s32" x="868" y="616"/><use href="#s30" x="874" y="616"/><use href="#s31" x="880" y="616"/><use href="#s34" x="886" y="616"/><use href="#s29" x="892" y="616"/>
<use href="#s65" x="61" y="637"/><use href="#s73" x="67" y="637"/><use href="#s76" x="73" y="637"/><use href="#s33" x="79" y="637"/><use href="#s36" x="85" y="637"/><use href="#s39" x="91" y="637"/><use href="#s33" x="97" y="637"/><use href="#s33" x="103" y="637"/><use href="#s34" x="109" y="637"/><use href="#s30" x="115" y="637"/><use href="#s28" x="127" y="637"/><use href="#s50" x="133" y="637"/><use href="#s61" x="139" y="637"/><use href="#s6c" x="145" y="637"/><use href="#s74" x="151" y="637"/><use href="#s61" x="157" y="637"/><use href="#s32" x="163" y="637"/><use href="#s30" x="169" y="637"/><use href="#s31" x="175" y="637"/><use href="#s35" x="181" y="637"/><use href="#s29" x="187" y="637"/>
<use href="#s64" x="61" y="658"/><use href="#s67" x="67" y="658"/><use href="#s76" x="73" y="658"/><use href="#s38" x="79" y="658"/><use href="#s33" x="85" y="658"/><use href="#s38" x="91" y="658"/><use href="#s31" x="97" y="658"/><use href="#s6e" x="103" y="658"/><use href="#s35" x="109" y="658"/><use href="#s34" x="115" y="658"/><use href="#s28" x="127" y="658"/><use href="#s43" x="133" y="658"/><use href="#s6f" x="139" y="658"/><use href="#s6f" x="145" y="658"/><use href="#s70" x="151" y="658"/><use href="#s65" x="157" y="658"/><use href="#s72" x="163" y="658"/><use href="#s32" x="169" y="658"/><use href="#s30" x="175" y="658"/><use href="#s31" x="181" y="658"/><use href="#s31" x="187" y="658"/><use href="#s29" x="193" y="658"/>
<use href="#s64" x="61" y="679"/><use href="#s67" x="67" y="679"/><use href="#s76" x="73" y="679"/><use href="#s38" x="79" y="679"/><use href="#s33" x="85" y="679"/><use href="#s38" x="91" y="679"/><use href="#s32" x="97" y="679"/><use href="#s6e" x="103" y="679"/><use href="#s35" x="109" y="679"/><use href="#s34" x="115" y="679"/><use href="#s28" x="127" y="679"/><use href="#s43" x="133" y="679"/><use href="#s6f" x="139" y="679"/><use href="#s6f" x="145" y="679"/><use href="#s70" x="151" y="679"/><use href="#s65" x="157" y="679"/><use href="#s72" x="163" y="679"/><use href="#s32" x="169" y="679"/><use href="#s30" x="175" y="679"/><use href="#s31" x="181" y="679"/><use href="#s31" x="187" y="679"/><use href="#s29" x="193" y="679"/>
<use href="#s64" x="61" y="700"/><use href="#s67" x="67" y="700"/><use href="#s76" x="73" y="700"/><use href="#s38" x="79" y="700"/><use href="#s33" x="85" y="700"/><use href="#s38" x="91" y="700"/><use href="#s33" x="97" y="700"/><use href="#s6e" x="103" y="700"/><use href="#s35" x="109" y="700"/><use href="#s34" x="115" y="700"/><use href="#s28" x="127" y="700"/><use href="#s43" x="133" y="700"/><use href="#s6f" x="139" y="700"/><use href="#s6f" x="145" y="700"/><use href="#s70" x="151" y="700"/><use href="#s65" x="157" y="700"/><use href="#s72" x="163" y="700"/><use href="#s32" x="169" y="700"/><use href="#s30" x="175" y="700"/><use href="#s31" x="181" y="700"/><use href="#s31" x="187" y="700"/><use href="#s29" x="193" y="700"/>
<use href="#s64" x="61" y="721"/><use href="#s67" x="67" y="721"/><use href="#s76" x="73" y="721"/><use href="#s34" x="79" y="721"/><use href="#s37" x="85" y="721"/><use href="#s37" x="91" y="721"/><use href="#s38" x="97" y="721"/><use href="#s6e" x="103" y="721"/><use href="#s31" x="109" y="721"/><use href="#s30" x="115" y="721"/><use href="#s30" x="121" y="721"/><use href="#s28" x="133" y="721"/><use href="#s43" x="139" y="721"/><use href="#s6f" x="145" y="721"/><use href="#s65" x="151" y="721"/><use href="#s32" x="157" y="721"/><use href="#s30" x="163" y="721"/><use href="#s31" x="169" y="721"/><use href="#s34" x="175" y="721"/><use href="#s29" x="181" y="721"/>
<use href="#s6e" x="61" y="742"/><use href="#s73" x="67" y="742"/><use href="#s76" x="73" y="742"/><use href="#s34" x="79" y="742"/><use href="#s33" x="85" y="742"/><use href="#s36" x="91" y="742"/><use href="#s33" x="97" y="742"/><use href="#s39" x="103" y="742"/><use href="#s33" x="109" y="742"/><use href="#s28" x="121" y="742"/><use href="#s4b" x="127" y="742"/><use href="#s6f" x="133" y="742"/><use href="#s72" x="139" y="742"/><use href="#s62" x="145" y="742"/><use href="#s65" x="151" y="742"/><use href="#s6c" x="157" y="742"/><use href="#s32" x="163" y="742"/><use href="#s30" x="169" y="742"/><use href="#s30" x="175" y="742"/><use href="#s37" x="181" y="742"/><use href="#s29" x="187" y="742"/>
<use href="#s64" x="61" y="763"/><use href="#s67" x="67" y="763"/><use href="#s76" x="73" y="763"/><use href="#s34" x="79" y="763"/><use href="#s37" x="85" y="763"/><use href="#s37" x="91" y="763"/><use href="#s39" x="97" y="763"/><use href="#s6e" x="103" y="763"/><use href="#s31" x="109" y="763"/><use href="#s30" x="115" y="763"/><use href="#s30" x="121" y="763"/><use href="#s28" x="133" y="763"/><use href="#s43" x="139" y="763"/><use href="#s6f" x="145" y="763"/><use href="#s65" x="151" y="763"/><use href="#s32" x="157" y="763"/><use href="#s30" x="163" y="763"/><use href="#s31" x="169" y="763"/><use href="#s34" x="175" y="763"/><use href="#s29" x="181" y="763"/>
<use href="#s65" x="243" y="763"/><use href="#s73" x="249" y="763"/><use href="#s76" x="255" y="763"/><use href="#s39" x="261" y="763"/><use href="#s39" x="267" y="763"/><use href="#s37" x="273" y="763"/><use href="#s39" x="279" y="763"/><use href="#s33" x="285" y="763"/><use href="#s36" x="291" y="763"/><use href="#s28" x="303" y="763"/><use href="#s50" x="309" y="763"/><use href="#s61" x="315" y="763"/><use href="#s6e" x="321" y="763"/><use href="#s67" x="327" y="763"/><use href="#s32" x="333" y="763"/><use href="#s30" x="339" y="763"/><use href="#s31" x="345" y="763"/><use href="#s30" x="351" y="763"/><use href="#s29" x="357" y="763"/>
<use href="#s64" x="61" y="784"/><use href="#s67" x="67" y="784"/><use href="#s76" x="73" y="784"/><use href="#s34" x="79" y="784"/><use href="#s37" x="85" y="784"/><use href="#s38" x="91" y="784"/><use href="#s30" x="97" y="784"/><use href="#s6e" x="103" y="784"/><use href="#s31" x="109" y="784"/><use href="#s30" x="115" y="784"/><use href="#s30" x="121" y="784"/><use href="#s28" x="133" y="784"/><use href="#s43" x="139" y="784"/><use href="#s6f" x="145" y="784"/><use href="#s65" x="151" y="784"/><use href="#s32" x="157" y="784"/><use href="#s30" x="163" y="784"/><use href="#s31" x="169" y="784"/><use href="#s34" x="175" y="784"/><use href="#s29" x="181" y="784"/>
<use href="#s6e" x="506" y="784"/><use href="#s73" x="512" y="784"/><use href="#s76" x="518" y="784"/><use href="#s34" x="524" y="784"/><use href="#s36" x="530" y="784"/><use href="#s30" x="536" y="784"/><use href="#s37" x="542" y="784"/><use href="#s31" x="548" y="784"/><use href="#s33" x="554" y="784"/><use href="#s28" x="566" y="784"/><use href="#s49" x="572" y="784"/><use href="#s74" x="578" y="784"/><use href="#s73" x="584" y="784"/><use href="#s61" x="590" y="784"/><use href="#s72" x="596" y="784"/><use href="#s61" x="602" y="784"/><use href="#s32" x="608" y="784"/><use href="#s30" x="614" y="784"/><use href="#s30" x="620" y="784"/><use href="#s39" x="626" y="784"/><use href="#s29" x="632" y="784"/>
<use href="#s65" x="61" y="805"/><use href="#s73" x="67" y="805"/><use href="#s76" x="73" y="805"/><use href="#s32" x="79" y="805"/><use href="#s34" x="85" y="805"/><use href="#s32" x="91" y="805"/><use href="#s32" x="97" y="805"/><use href="#s31" x="103" y="805"/><use href="#s34" x="109" y="805"/><use href="#s30" x="115" y="805"/><use href="#s28" x="127" y="805"/><use href="#s41" x="133" y="805"/><use href="#s6c" x="139" y="805"/><use href="#s74" x="145" y="805"/><use href="#s73" x="151" y="805"/><use href="#s68" x="157" y="805"/><use href="#s75" x="163" y="805"/><use href="#s6c" x="169" y="805"/><use href="#s65" x="175" y="805"/><use href="#s72" x="181" y="805"/><use href="#s32" x="187" y="805"/><use href="#s30" x="193" y="805"/><use href="#s31" x="199" y="805"/><use href="#s30" x="205" y="805"/><use href="#s29" x="211" y="805"/>
<use href="#s6e" x="61" y="826"/><use href="#s73" x="67" y="826"/><use href="#s76" x="73" y="826"/><use href="#s34" x="79" y="826"/><use href="#s34" x="85" y="826"/><use href="#s32" x="91" y="826"/><use href="#s38" x="97" y="826"/><use href="#s36" x="103" y="826"/><use href="#s32" x="109" y="826"/><use href="#s28" x="121" y="826"/><use href="#s4d" x="127" y="826"/><use href="#s63" x="133" y="826"/><use href="#s43" x="139" y="826"/><use href="#s61" x="145" y="826"/><use href="#s72" x="151" y="826"/><use href="#s72" x="157" y="826"/><use href="#s6f" x="163" y="826"/><use href="#s6c" x="169" y="826"/><use href="#s6c" x="175" y="826"/><use href="#s32" x="181" y="826"/><use href="#s30" x="187" y="826"/><use href="#s30" x="193" y="826"/><use href="#s38" x="199" y="826"/><use href="#s29" x="205" y="826"/>
<use href="#s6e" x="61" y="847"/><use href="#s73" x="67" y="847"/><use href="#s76" x="73" y="847"/><use href="#s38" x="79" y="847"/><use href="#s31" x="85" y="847"/><use href="#s38" x="91" y="847"/><use href="#s31" x="97" y="847"/><use href="#s35" x="103" y="847"/><use href="#s30" x="109" y="847"/><use href="#s28" x="121" y="847"/><use href="#s57" x="127" y="847"/><use href="#s61" x="133" y="847"/><use href="#s6e" x="139" y="847"/><use href="#s67" x="145" y="847"/><use href="#s32" x="151" y="847"/><use href="#s30" x="157" y="847"/><use href="#s30" x="163" y="847"/><use href="#s37" x="169" y="847"/><use href="#s29" x="175" y="847"/>
<use href="#s6e" x="61" y="868"/><use href="#s73" x="67" y="868"/><use href="#s76" x="73" y="868"/><use href="#s34" x="79" y="868"/><use href="#s36" x="85" y="868"/><use href="#s39" x="91" y="868"/><use href="#s36" x="97" y="868"/><use href="#s39" x="103" y="868"/><use href="#s33" x="109" y="868"/><use href="#s28" x="121" y="868"/><use href="#s4c" x="127" y="868"/><use href="#s6f" x="133" y="868"/><use href="#s63" x="139" y="868"/><use href="#s6b" x="145" y="868"/><use href="#s65" x="151" y="868"/><use href="#s32" x="157" y="868"/><use href="#s30" x="163" y="868"/><use href="#s30" x="169" y="868"/><use href="#s36" x="175" y="868"/><use href="#s29" x="181" y="868"/>
<use href="#s6e" x="61" y="889"/><use href="#s73" x="67" y="889"/><use href="#s76" x="73" y="889"/><use href="#s33" x="79" y="889"/><use href="#s38" x="85" y="889"/><use href="#s38" x="91" y="889"/><use href="#s33" x="97" y="889"/><use href="#s28" x="109" y="889"/><use href="#s4b" x="115" y="889"/><use href="#s69" x="121" y="889"/><use href="#s64" x="127" y="889"/><use href="#s64" x="133" y="889"/><use href="#s32" x="139" y="889"/><use href="#s30" x="145" y="889"/><use href="#s30" x="151" y="889"/><use href="#s38" x="157" y="889"/><use href="#s29" x="163" y="889"/>
<use href="#s64" x="299" y="889"/><use href="#s67" x="305" y="889"/><use href="#s76" x="311" y="889"/><use href="#s38" x="317" y="889"/><use href="#s33" x="323" y="889"/><use href="#s38" x="329" y="889"/><use href="#s35" x="335" y="889"/><use href="#s6e" x="341" y="889"/><use href="#s35" x="347" y="889"/><use href="#s34" x="353" y="889"/><use href="#s28" x="365" y="889"/><use href="#s43" x="371" y="889"/><use href="#s6f" x="377" y="889"/><use href="#s6f" x="383" y="889"/><use href="#s70" x="389" y="889"/><use href="#s65" x="395" y="889"/><use href="#s72" x="401" y="889"/><use href="#s32" x="407" y="889"/><use href="#s30" x="413" y="889"/><use href="#s31" x="419" y="889"/><use href="#s31" x="425" y="889"/><use href="#s29" x="431" y="889"/>
<use href="#s6e" x="61" y="910"/><use href="#s73" x="67" y="910"/><use href="#s76" x="73" y="910"/><use href="#s31" x="79" y="910"/><use href="#s30" x="85" y="910"/><use href="#s32" x="91" y="910"/><use href="#s38" x="97" y="910"/><use href="#s31" x="103" y="910"/><use href="#s28" x="115" y="910"/><use href="#s50" x="121" y="910"/><use href="#s65" x="127" y="910"/><use href="#s72" x="133" y="910"/><use href="#s72" x="139" y="910"/><use href="#s79" x="145" y="910"/><use href="#s32" x="151" y="910"/><use href="#s30" x="157" y="910"/><use href="#s30" x="163" y="910"/><use href="#s38" x="169" y="910"/><use href="#s29" x="175" y="910"/>
<use href="#s64" x="203" y="910"/><use href="#s67" x="209" y="910"/><use href="#s76" x="215" y="910"/><use href="#s34" x="221" y="910"/><use href="#s37" x="227" y="910"/><use href="#s38" x="233" y="910"/><use href="#s35" x="239" y="910"/><use href="#s6e" x="245" y="910"/><use href="#s31" x="251" y="910"/><use href="#s30" x="257" y="910"/><use href="#s30" x="263" y="910"/><use href="#s28" x="275" y="910"/><use href="#s43" x="281" y="910"/><use href="#s6f" x="287" y="910"/><use href="#s65" x="293" y="910"/><use href="#s32" x="299" y="910"/><use href="#s30" x="305" y="910"/><use href="#s31" x="311" y="910"/><use href="#s34" x="317" y="910"/><use href="#s29" x="323" y="910"/>
<use href="#s64" x="61" y="931"/><use href="#s67" x="67" y="931"/><use href="#s76" x="73" y="931"/><use href="#s34" x="79" y="931"/><use href="#s37" x="85" y="931"/><use href="#s38" x="91" y="931"/><use href="#s31" x="97" y="931"/><use href="#s6e" x="103" y="931"/><use href="#s31" x="109" y="931"/><use href="#s30" x="115" y="931"/><use href="#s30" x="121" y="931"/><use href="#s28" x="133" y="931"/><use href="#s43" x="139" y="931"/><use href="#s6f" x="145" y="931"/><use href="#s65" x="151" y="931"/><use href="#s32" x="157" y="931"/><use href="#s30" x="163" y="931"/><use href="#s31" x="169" y="931"/><use href="#s34" x="175" y="931"/><use href="#s29" x="181" y="931"/>
<use href="#s6e" x="689" y="931"/><use href="#s73" x="695" y="931"/><use href="#s76" x="701" y="931"/><use href="#s35" x="707" y="931"/><use href="#s39" x="713" y="931"/><use href="#s30" x="719" y="931"/><use href="#s37" x="725" y="931"/><use href="#s30" x="731" y="931"/><use href="#s35" x="737" y="931"/><use href="#s28" x="749" y="931"/><use href="#s43" x="755" y="931"/><use href="#s6f" x="761" y="931"/><use href="#s6f" x="767" y="931"/><use href="#s70" x="773" y="931"/><use href="#s65" x="779" y="931"/><use href="#s72" x="785" y="931"/><use href="#s32" x="791" y="931"/><use href="#s30" x="797" y="931"/><use href="#s31" x="803" y="931"/><use href="#s31" x="809" y="931"/><use href="#s29" x="815" y="931"/>
<use href="#s64" x="61" y="952"/><use href="#s67" x="67" y="952"/><use href="#s76" x="73" y="952"/><use href="#s34" x="79" y="952"/><use href="#s37" x="85" y="952"/><use href="#s38" x="91" y="952"/><use href="#s32" x="97" y="952"/><use href="#s6e" x="103" y="952"/><use href="#s31" x="109" y="952"/><use href="#s30" x="115" y="952"/><use href="#s30" x="121" y="952"/><use href="#s28" x="133" y="952"/><use href="#s43" x="139" y="952"/><use href="#s6f" x="145" y="952"/><use href="#s65" x="151" y="952"/><use href="#s32" x="157" y="952"/><use href="#s30" x="163" y="952"/><use href="#s31" x="169" y="952"/><use href="#s34" x="175" y="952"/><use href="#s29" x="181" y="952"/>
<use href="#s64" x="61" y="973"/><use href="#s67" x="67" y="973"/><use href="#s76" x="73" y="973"/><use href="#s34" x="79" y="973"/><use href="#s37" x="85" y="973"/><use href="#s38" x="91" y="973"/><use href="#s33" x="97" y="973"/><use href="#s6e" x="103" y="973"/><use href="#s31" x="109" y="973"/><use href="#s30" x="115" y="973"/><use href="#s30" x="121" y="973"/><use href="#s28" x="133" y="973"/><use href="#s43" x="139" y="973"/><use href="#s6f" x="145" y="973"/><use href="#s65" x="151" y="973"/><use href="#s32" x="157" y="973"/><use href="#s30" x="163" y="973"/><use href="#s31" x="169" y="973"/><use href="#s34" x="175" y="973"/><use href="#s29" x="181" y="973"/>
<use href="#s64" x="61" y="994"/><use href="#s67" x="67" y="994"/><use href="#s76" x="73" y="994"/><use href="#s34" x="79" y="994"/><use href="#s37" x="85" y="994"/><use href="#s38" x="91" y="994"/><use href="#s34" x="97" y="994"/><use href="#s6e" x="103" y="994"/><use href="#s31" x="109" y="994"/><use href="#s30" x="115" y="994"/><use href="#s30" x="121" y="994"/><use href="#s28" x="133" y="994"/><use href="#s43" x="139" y="994"/><use href="#s6f" x="145" y="994"/><use href="#s65" x="151" y="994"/><use href="#s32" x="157" y="994"/><use href="#s30" x="163" y="994"/><use href="#s31" x="169" y="994"/><use href="#s34" x="175" y="994"/><use href="#s29" x="181" y="994"/>
<use href="#s6e" x="61" y="1015"/><use href="#s73" x="67" y="1015"/><use href="#s76" x="73" y="1015"/><use href="#s35" x="79" y="1015"/><use href="#s39" x="85" y="1015"/><use href="#s30" x="91" y="1015"/><use href="#s36" x="97" y="1015"/><use href="#s36" x="103" y="1015"/><use href="#s39" x="109" y="1015"/><use href="#s28" x="121" y="1015"/><use href="#s43" x="127" y="1015"/><use href="#s6f" x="133" y="1015"/><use href="#s6f" x="139" y="1015"/><use href="#s70" x="145" y="1015"/><use href="#s65" x="151" y="1015"/><use href="#s72" x="157" y="1015"/><use href="#s32" x="163" y="1015"/><use href="#s30" x="169" y="1015"/><use href="#s31" x="175" y="1015"/><use href="#s31" x="181" y="1015"/><use href="#s29" x="187" y="1015"/>
<use href="#s6e" x="317" y="1015"/><use href="#s73" x="323" y="1015"/><use href="#s76" x="329" y="1015"/><use href="#s39" x="335" y="1015"/><use href="#s39" x="341" y="1015"/><use href="#s37" x="347" y="1015"/><use href="#s34" x="353" y="1015"/><use href="#s34" x="359" y="1015"/><use href="#s34" x="365" y="1015"/><use href="#s28" x="377" y="1015"/><use href="#s43" x="383" y="1015"/><use href="#s6f" x="389" y="1015"/><use href="#s65" x="395" y="1015"/><use href="#s32" x="401" y="1015"/><use href="#s30" x="407" y="1015"/><use href="#s31" x="413" y="1015"/><use href="#s34" x="419" y="1015"/><use href="#s29" x="425" y="1015"/>
<use href="#s64" x="61" y="1036"/><use href="#s67" x="67" y="1036"/><use href="#s76" x="73" y="1036"/><use href="#s38" x="79" y="1036"/><use href="#s33" x="85" y="1036"/><use href="#s38" x="91" y="1036"/><use href="#s34" x="97" y="1036"/><use href="#s6e" x="103" y="1036"/><use href="#s35" x="109" y="1036"/><use href="#s34" x="115" y="1036"/><use href="#s28" x="127" y="1036"/><use href="#s43" x="133" y="1036"/><use href="#s6f" x="139" y="1036"/><use href="#s6f" x="145" y="1036"/><use href="#s70" x="151" y="1036"/><use href="#s65" x="157" y="1036"/><use href="#s72" x="163" y="1036"/><use href="#s32" x="169" y="1036"/><use href="#s30" x="175" y="1036"/><use href="#s31" x="181" y="1036"/><use href="#s31" x="187" y="1036"/><use href="#s29" x="193" y="1036"/>
<use href="#s6e" x="61" y="1057"/><use href="#s73" x="67" y="1057"/><use href="#s76" x="73" y="1057"/><use href="#s31" x="79" y="1057"/><use href="#s30" x="85" y="1057"/><use href="#s30" x="91" y="1057"/><use href="#s31" x="97" y="1057"/><use href="#s31" x="103" y="1057"/><use href="#s30" x="109" y="1057"/><use href="#s38" x="115" y="1057"/><use href="#s28" x="127" y="1057"/><use href="#s43" x="133" y="1057"/><use href="#s6f" x="139" y="1057"/><use href="#s65" x="145" y="1057"/><use href="#s32" x="151" y="1057"/><use href="#s30" x="157" y="1057"/><use href="#s31" x="163" y="1057"/><use href="#s34" x="169" y="1057"/><use href="#s29" x="175" y="1057"/>
<use href="#s64" x="452" y="1057"/><use href="#s67" x="458" y="1057"/><use href="#s76" x="464" y="1057"/><use href="#s34" x="470" y="1057"/><use href="#s37" x="476" y="1057"/><use href="#s38" x="482" y="1057"/><use href="#s37" x="488" y="1057"/><use href="#s6e" x="494" y="1057"/><use href="#s31" x="500" y="1057"/><use href="#s30" x="506" y="1057"/><use href="#s30" x="512" y="1057"/><use href="#s28" x="524" y="1057"/><use href="#s43" x="530" y="1057"/><use href="#s6f" x="536" y="1057"/><use href="#s65" x="542" y="1057"/><use href="#s32" x="548" y="1057"/><use href="#s30" x="554" y="1057"/><use href="#s31" x="560" y="1057"/><use href="#s34" x="566" y="1057"/><use href="#s29" x="572" y="1057"/>
<use href="#s6e" x="129" y="1078"/><use href="#s73" x="135" y="1078"/><use href="#s76" x="141" y="1078"/><use href="#s32" x="147" y="1078"/><use href="#s33" x="153" y="1078"/><use href="#s37" x="159" y="1078"/><use href="#s28" x="171" y="1078"/><use href="#s54" x="177" y="1078"/><use href="#s75" x="183" y="1078"/><use href="#s7a" x="189" y="1078"/><use href="#s75" x="195" y="1078"/><use href="#s6e" x="201" y="1078"/><use href="#s32" x="207" y="1078"/><use href="#s30" x="213" y="1078"/><use href="#s30" x="219" y="1078"/><use href="#s35" x="225" y="1078"/><use href="#s29" x="231" y="1078"/>
<use href="#s6e" x="506" y="1078"/><use href="#s73" x="512" y="1078"/><use href="#s76" x="518" y="1078"/><use href="#s38" x="524" y="1078"/><use href="#s31" x="530" y="1078"/><use href="#s38" x="536" y="1078"/><use href="#s31" x="542" y="1078"/><use href="#s35" x="548" y="1078"/><use href="#s31" x="554" y="1078"/><use href="#s28" x="566" y="1078"/><use href="#s57" x="572" y="1078"/><use href="#s61" x="578" y="1078"/><use href="#s6e" x="584" y="1078"/><use href="#s67" x="590" y="1078"/><use href="#s32" x="596" y="1078"/><use href="#s30" x="602" y="1078"/><use href="#s30" x="608" y="1078"/><use href="#s37" x="614" y="1078"/><use href="#s29" x="620" y="1078"/>
<use href="#s64" x="792" y="1078"/><use href="#s67" x="798" y="1078"/><use href="#s76" x="804" y="1078"/><use href="#s38" x="810" y="1078"/><use href="#s33" x="816" y="1078"/><use href="#s38" x="822" y="1078"/><use href="#s38" x="828" y="1078"/><use href="#s6e" x="834" y="1078"/><use href="#s35" x="840" y="1078"/><use href="#s34" x="846" y="1078"/><use href="#s28" x="858" y="1078"/><use href="#s43" x="864" y="1078"/><use href="#s6f" x="870" y="1078"/><use href="#s6f" x="876" y="1078"/><use href="#s70" x="882" y="1078"/><use href="#s65" x="888" y="1078"/><use href="#s72" x="894" y="1078"/><use href="#s32" x="900" y="1078"/><use href="#s30" x="906" y="1078"/><use href="#s31" x="912" y="1078"/><use href="#s31" x="918" y="1078"/><use href="#s29" x="924" y="1078"/>
<use href="#s6e" x="146" y="1099"/><use href="#s73" x="152" y="1099"/><use href="#s76" x="158" y="1099"/><use href="#s31" x="164" y="1099"/><use href="#s30" x="170" y="1099"/><use href="#s30" x="176" y="1099"/><use href="#s33" x="182" y="1099"/><use href="#s35" x="188" y="1099"/><use href="#s36" x="194" y="1099"/><use href="#s30" x="200" y="1099"/><use href="#s28" x="212" y="1099"/><use href="#s43" x="218" y="1099"/><use href="#s6f" x="224" y="1099"/><use href="#s65" x="230" y="1099"/><use href="#s32" x="236" y="1099"/><use href="#s30" x="242" y="1099"/><use href="#s31" x="248" y="1099"/><use href="#s34" x="254" y="1099"/><use href="#s29" x="260" y="1099"/>
<use href="#s6e" x="146" y="1120"/><use href="#s73" x="152" y="1120"/><use href="#s76" x="158" y="1120"/><use href="#s31" x="164" y="1120"/><use href="#s30" x="170" y="1120"/><use href="#s30" x="176" y="1120"/><use href="#s39" x="182" y="1120"/><use href="#s39" x="188" y="1120"/><use href="#s30" x="194" y="1120"/><use href="#s39" x="200" y="1120"/><use href="#s28" x="212" y="1120"/><use href="#s43" x="218" y="1120"/><use href="#s6f" x="224" y="1120"/><use href="#s65" x="230" y="1120"/><use href="#s32" x="236" y="1120"/><use href="#s30" x="242" y="1120"/><use href="#s31" x="248" y="1120"/><use href="#s34" x="254" y="1120"/><use href="#s29" x="260" y="1120"/>
<use href="#s65" x="152" y="1141"/><use href="#s73" x="158" y="1141"/><use href="#s76" x="164" y="1141"/><use href="#s31" x="170" y="1141"/><use href="#s36" x="176" y="1141"/><use href="#s30" x="182" y="1141"/><use href="#s32" x="188" y="1141"/><use href="#s38" x="194" y="1141"/><use href="#s32" x="200" y="1141"/><use href="#s38" x="206" y="1141"/><use href="#s28" x="218" y="1141"/><use href="#s4c" x="224" y="1141"/><use href="#s65" x="230" y="1141"/><use href="#s76" x="236" y="1141"/><use href="#s79" x="242" y="1141"/><use href="#s32" x="248" y="1141"/><use href="#s30" x="254" y="1141"/><use href="#s30" x="260" y="1141"/><use href="#s37" x="266" y="1141"/><use href="#s29" x="272" y="1141"/>
<use href="#s64" x="506" y="1141"/><use href="#s67" x="512" y="1141"/><use href="#s76" x="518" y="1141"/><use href="#s38" x="524" y="1141"/><use href="#s33" x="530" y="1141"/><use href="#s38" x="536" y="1141"/><use href="#s36" x="542" y="1141"/><use href="#s6e" x="548" y="1141"/><use href="#s35" x="554" y="1141"/><use href="#s34" x="560" y="1141"/><use href="#s28" x="572" y="1141"/><use href="#s43" x="578" y="1141"/><use href="#s6f" x="584" y="1141"/><use href="#s6f" x="590" y="1141"/><use href="#s70" x="596" y="1141"/><use href="#s65" x="602" y="1141"/><use href="#s72" x="608" y="1141"/><use href="#s32" x="614" y="1141"/><use href="#s30" x="620" y="1141"/><use href="#s31" x="626" y="1141"/><use href="#s31" x="632" y="1141"/><use href="#s29" x="638" y="1141"/>
<use href="#s6e" x="152" y="1162"/><use href="#s73" x="158" y="1162"/><use href="#s76" x="164" y="1162"/><use href="#s34" x="170" y="1162"/><use href="#s39" x="176" y="1162"/><use href="#s39" x="182" y="1162"/><use href="#s34" x="188" y="1162"/><use href="#s37" x="194" y="1162"/><use href="#s39" x="200" y="1162"/><use href="#s28" x="212" y="1162"/><use href="#s4b" x="218" y="1162"/><use href="#s69" x="224" y="1162"/><use href="#s64" x="230" y="1162"/><use href="#s64" x="236" y="1162"/><use href="#s32" x="242" y="1162"/><use href="#s30" x="248" y="1162"/><use href="#s31" x="254" y="1162"/><use href="#s30" x="260" y="1162"/><use href="#s62" x="266" y="1162"/><use href="#s29" x="272" y="1162"/>
<use href="#s64" x="506" y="1162"/><use href="#s67" x="512" y="1162"/><use href="#s76" x="518" y="1162"/><use href="#s38" x="524" y="1162"/><use href="#s33" x="530" y="1162"/><use href="#s38" x="536" y="1162"/><use href="#s37" x="542" y="1162"/><use href="#s6e" x="548" y="1162"/><use href="#s35" x="554" y="1162"/><use href="#s34" x="560" y="1162"/><use href="#s28" x="572" y="1162"/><use href="#s43" x="578" y="1162"/><use href="#s6f" x="584" y="1162"/><use href="#s6f" x="590" y="1162"/><use href="#s70" x="596" y="1162"/><use href="#s65" x="602" y="1162"/><use href="#s72" x="608" y="1162"/><use href="#s32" x="614" y="1162"/><use href="#s30" x="620" y="1162"/><use href="#s31" x="626" y="1162"/><use href="#s31" x="632" y="1162"/><use href="#s29" x="638" y="1162"/>
<use href="#s64" x="517" y="1183"/><use href="#s67" x="523" y="1183"/><use href="#s76" x="529" y="1183"/><use href="#s34" x="535" y="1183"/><use href="#s37" x="541" y="1183"/><use href="#s38" x="547" y="1183"/><use href="#s38" x="553" y="1183"/><use href="#s6e" x="559" y="1183"/><use href="#s31" x="565" y="1183"/><use href="#s30" x="571" y="1183"/><use href="#s30" x="577" y="1183"/><use href="#s28" x="589" y="1183"/><use href="#s43" x="595" y="1183"/><use href="#s6f" x="601" y="1183"/><use href="#s65" x="607" y="1183"/><use href="#s32" x="613" y="1183"/><use href="#s30" x="619" y="1183"/><use href="#s31" x="625" y="1183"/><use href="#s34" x="631" y="1183"/><use href="#s29" x="637" y="1183"/>
<use href="#s64" x="517" y="1204"/><use href="#s67" x="523" y="1204"/><use href="#s76" x="529" y="1204"/><use href="#s34" x="535" y="1204"/><use href="#s37" x="541" y="1204"/><use href="#s38" x="547" y="1204"/><use href="#s39" x="553" y="1204"/><use href="#s6e" x="559" y="1204"/><use href="#s31" x="565" y="1204"/><use href="#s30" x="571" y="1204"/><use href="#s30" x="577" y="1204"/><use href="#s28" x="589" y="1204"/><use href="#s43" x="595" y="1204"/><use href="#s6f" x="601" y="1204"/><use href="#s65" x="607" y="1204"/><use href="#s32" x="613" y="1204"/><use href="#s30" x="619" y="1204"/><use href="#s31" x="625" y="1204"/><use href="#s34" x="631" y="1204"/><use href="#s29" x="637" y="1204"/>
<use href="#s64" x="517" y="1225"/><use href="#s67" x="523" y="1225"/><use href="#s76" x="529" y="1225"/><use href="#s34" x="535" y="1225"/><use href="#s37" x="541" y="1225"/><use href="#s39" x="547" y="1225"/><use href="#s30" x="553" y="1225"/><use href="#s6e" x="559" y="1225"/><use href="#s31" x="565" y="1225"/><use href="#s30" x="571" y="1225"/><use href="#s30" x="577" y="1225"/><use href="#s28" x="589" y="1225"/><use href="#s43" x="595" y="1225"/><use href="#s6f" x="601" y="1225"/><use href="#s65" x="607" y="1225"/><use href="#s32" x="613" y="1225"/><use href="#s30" x="619" y="1225"/><use href="#s31" x="625" y="1225"/><use href="#s34" x="631" y="1225"/><use href="#s29" x="637" y="1225"/>
<use href="#s64" x="575" y="1246"/><use href="#s67" x="581" y="1246"/><use href="#s76" x="587" y="1246"/><use href="#s34" x="593" y="1246"/><use href="#s37" x="599" y="1246"/><use href="#s39" x="605" y="1246"/><use href="#s31" x="611" y="1246"/><use href="#s6e" x="617" y="1246"/><use href="#s31" x="623" y="1246"/><use href="#s30" x="629" y="1246"/><use href="#s30" x="635" y="1246"/><use href="#s28" x="647" y="1246"/><use href="#s43" x="653" y="1246"/><use href="#s6f" x="659" y="1246"/><use href="#s65" x="665" y="1246"/><use href="#s32" x="671" y="1246"/><use href="#s30" x="677" y="1246"/><use href="#s31" x="683" y="1246"/><use href="#s34" x="689" y="1246"/><use href="#s29" x="695" y="1246"/>
<use href="#s64" x="712" y="1267"/><use href="#s67" x="718" y="1267"/><use href="#s76" x="724" y="1267"/><use href="#s34" x="730" y="1267"/><use href="#s37" x="736" y="1267"/><use href="#s39" x="742" y="1267"/><use href="#s33" x="748" y="1267"/><use href="#s6e" x="754" y="1267"/><use href="#s31" x="760" y="1267"/><use href="#s30" x="766" y="1267"/><use href="#s30" x="772" y="1267"/><use href="#s28" x="784" y="1267"/><use href="#s43" x="790" y="1267"/><use href="#s6f" x="796" y="1267"/><use href="#s65" x="802" y="1267"/><use href="#s32" x="808" y="1267"/><use href="#s30" x="814" y="1267"/><use href="#s31" x="820" y="1267"/><use href="#s34" x="826" y="1267"/><use href="#s29" x="832" y="1267"/>
<use href="#s6e" x="822" y="1288"/><use href="#s73" x="828" y="1288"/><use href="#s76" x="834" y="1288"/><use href="#s35" x="840" y="1288"/><use href="#s39" x="846" y="1288"/><use href="#s30" x="852" y="1288"/><use href="#s37" x="858" y="1288"/><use href="#s30" x="864" y="1288"/><use href="#s38" x="870" y="1288"/><use href="#s28" x="882" y="1288"/><use href="#s43" x="888" y="1288"/><use href="#s6f" x="894" y="1288"/><use href="#s6f" x="900" y="1288"/><use href="#s70" x="906" y="1288"/><use href="#s65" x="912" y="1288"/><use href="#s72" x="918" y="1288"/><use href="#s32" x="924" y="1288"/><use href="#s30" x="930" y="1288"/><use href="#s31" x="936" y="1288"/><use href="#s31" x="942" y="1288"/><use href="#s29" x="948" y="1288"/>
<use href="#b52" x="60" y="1329"/><use href="#b65" x="67" y="1329"/><use href="#b66" x="74" y="1329"/><use href="#b53" x="81" y="1329"/><use href="#b65" x="88" y="1329"/><use href="#b71" x="95" y="1329"/><use href="#b47" x="109" y="1329"/><use href="#b65" x="116" y="1329"/><use href="#b6e" x="123" y="1329"/><use href="#b65" x="130" y="1329"/><use href="#b73" x="137" y="1329"/>
<use href="#s46" x="213" y="1341"/><use href="#s41" x="219" y="1341"/><use href="#s4d" x="225" y="1341"/><use href="#s38" x="231" y="1341"/><use href="#s36" x="237" y="1341"/><use href="#s44" x="243" y="1341"/><use href="#s50" x="249" y="1341"/><use href="#s7c" x="255" y="1341"/><use href="#s4e" x="261" y="1341"/><use href="#s52" x="267" y="1341"/><use href="#s5f" x="273" y="1341"/><use href="#s30" x="279" y="1341"/><use href="#s32" x="285" y="1341"/><use href="#s34" x="291" y="1341"/><use href="#s32" x="297" y="1341"/><use href="#s34" x="303" y="1341"/><use href="#s31" x="309" y="1341"/>
</g>
</svg>
</body></html>
